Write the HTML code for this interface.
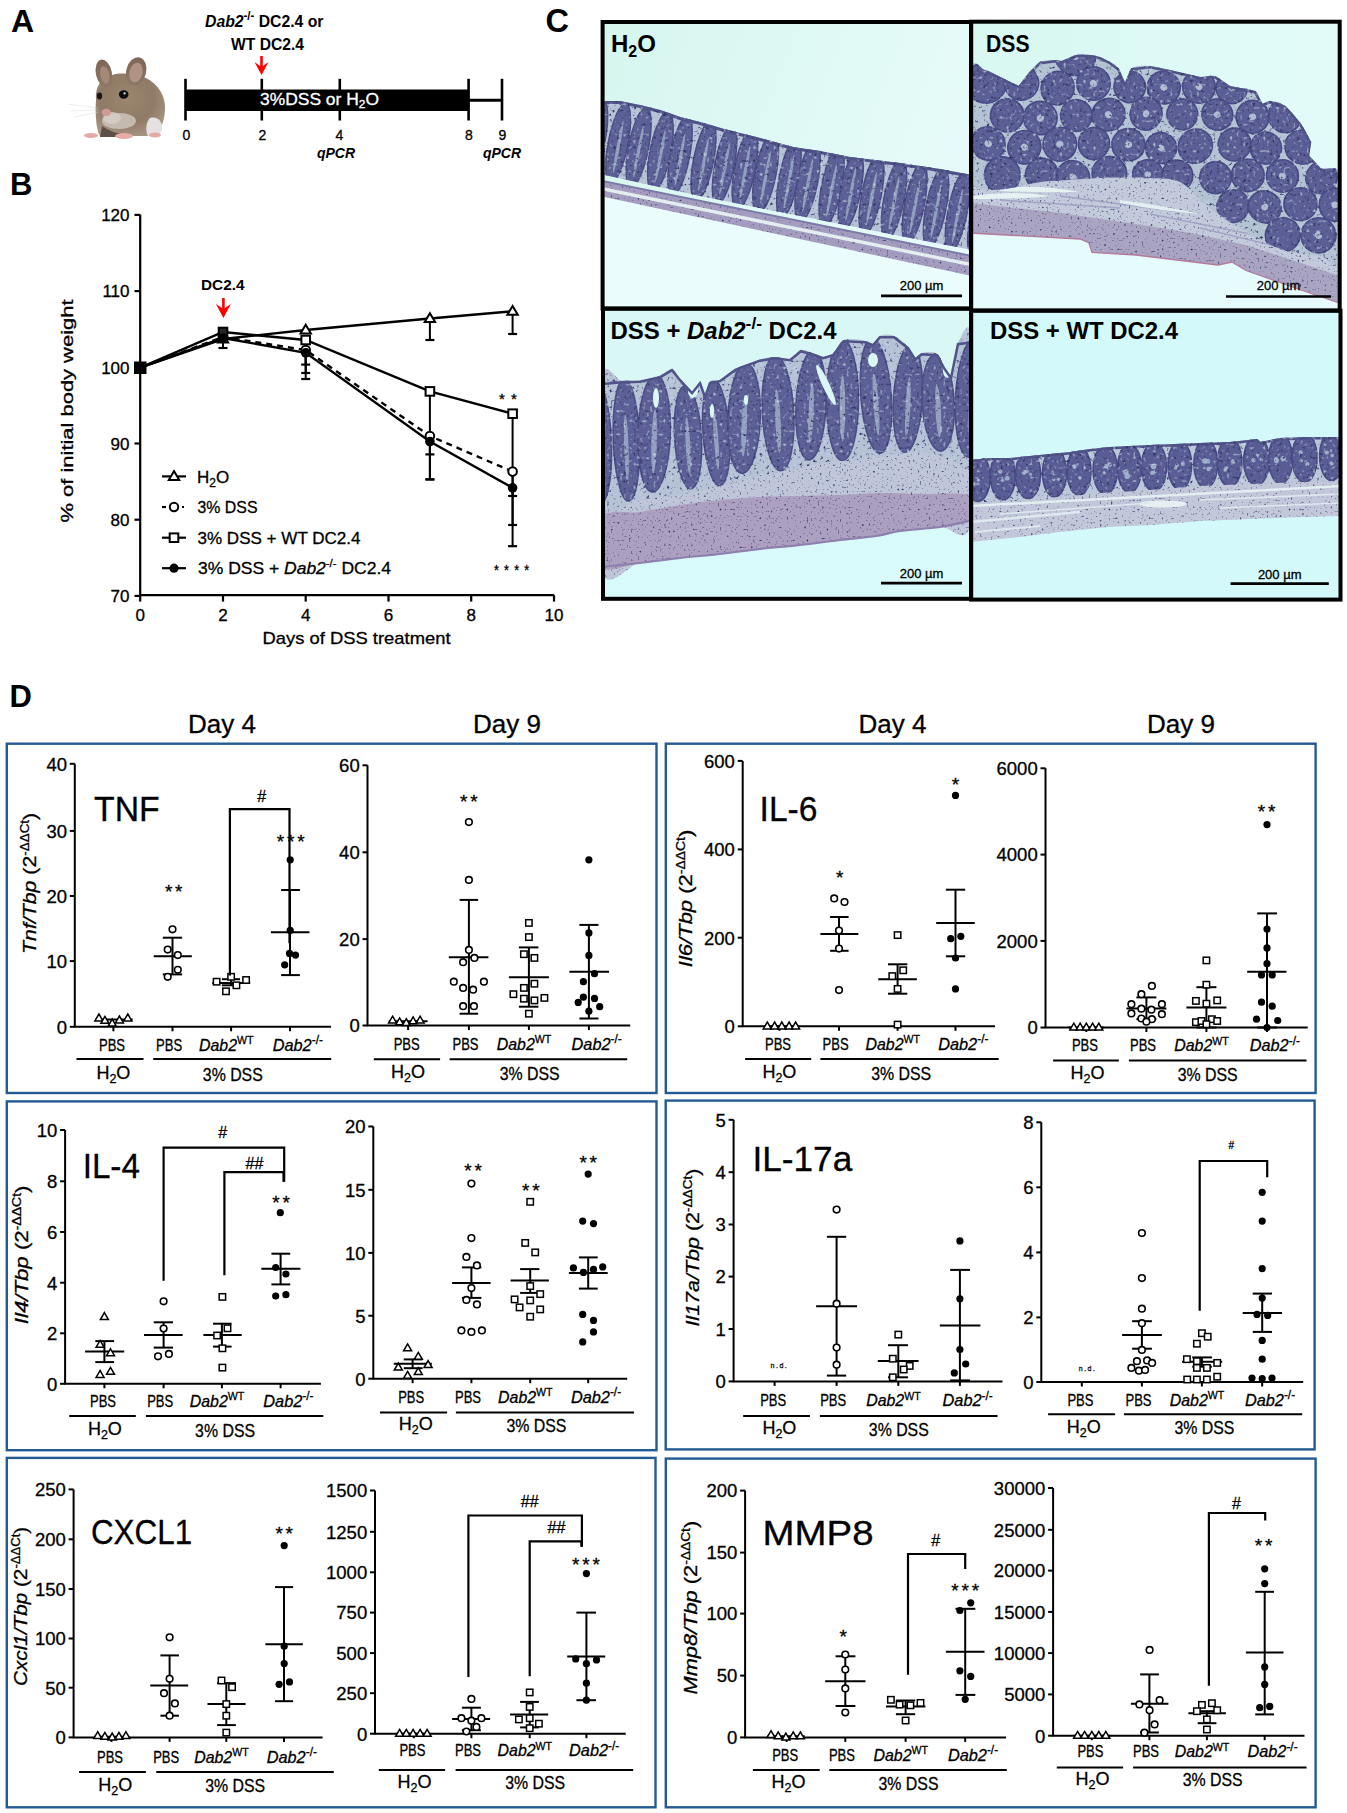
<!DOCTYPE html>
<html><head><meta charset="utf-8"><style>
html,body{margin:0;padding:0;background:#fff;}
body{width:1347px;height:1813px;overflow:hidden;}
svg{display:block;font-family:"Liberation Sans",sans-serif;}
text{stroke:#000;stroke-width:0.3px;}
text[font-weight="bold"]{stroke-width:0;}
text[fill="#fff"]{stroke:#fff;}
</style></head><body>
<svg width="1347" height="1813" viewBox="0 0 1347 1813">
<text x="11" y="32.3" font-size="32" font-weight="bold">A</text>
<g>
 <defs>
  <radialGradient id="mfur" cx="0.45" cy="0.4" r="0.65">
   <stop offset="0" stop-color="#9c8670"/><stop offset="0.6" stop-color="#8f7a66"/><stop offset="1" stop-color="#a89684"/>
  </radialGradient>
  <linearGradient id="mear" x1="0" y1="0" x2="0" y2="1"><stop offset="0" stop-color="#7d6656"/><stop offset="1" stop-color="#8e7766"/></linearGradient>
  <filter id="mfz" x="-0.1" y="-0.1" width="1.2" height="1.2"><feGaussianBlur stdDeviation="0.6"/></filter>
 </defs>
 <g filter="url(#mfz)">
 <path d="M96 100 C95 88 100 78 112 75 C122 72 135 74 146 78 C158 84 166 96 165 110 C164 124 160 132 152 136 L100 136 C96 130 95 112 96 100 Z" fill="url(#mfur)"/>
 <path d="M150 118 C158 116 163 122 162 130 C160 135 154 137 148 136 C145 130 146 122 150 118 Z" fill="#e4e2e0"/>
 <ellipse cx="119" cy="121" rx="17" ry="8" fill="#cdc4bb" opacity="0.85"/>
 <ellipse cx="112" cy="118" rx="9" ry="6" fill="#d8d0c9" opacity="0.8"/>
 <path d="M102 126 C108 130 116 134 124 134 L122 137 L100 137 Z" fill="#5e5048"/>
 <ellipse cx="103.9" cy="73.4" rx="8" ry="14" transform="rotate(-12 103.9 73.4)" fill="url(#mear)"/>
 <ellipse cx="104.8" cy="75" rx="4.5" ry="9" transform="rotate(-12 104.8 75)" fill="#a58878"/>
 <ellipse cx="136.2" cy="71.3" rx="10" ry="14.3" transform="rotate(14 136.2 71.3)" fill="url(#mear)"/>
 <ellipse cx="136" cy="72.5" rx="6.5" ry="10" transform="rotate(14 136 72.5)" fill="#b09385"/>
 <ellipse cx="123.7" cy="94.5" rx="4.8" ry="4.2" fill="#0d0d10"/>
 <circle cx="124.6" cy="93.4" r="1.1" fill="#dfe6ee"/>
 <ellipse cx="99.5" cy="96" rx="2.6" ry="3.4" fill="#15151a"/>
 <ellipse cx="106.3" cy="112.4" rx="4.5" ry="3.6" fill="#cf9a98"/>
 <ellipse cx="91" cy="135.5" rx="7" ry="2.6" fill="#e5aaa6"/>
 <ellipse cx="124" cy="136" rx="9" ry="3" fill="#e6aca8"/>
 <ellipse cx="155" cy="135" rx="6" ry="2.4" fill="#e3aaa6"/>
 </g>
 <g stroke="#d8d4d0" stroke-width="0.5" fill="none" opacity="0.8">
  <path d="M98 108 L68 104 M98 110 L70 111 M99 112 L74 117"/>
 </g>
</g>
<rect x="185" y="89.5" width="283.5" height="21.5" fill="#000"/>
<line x1="468" y1="100.3" x2="502" y2="100.3" stroke="#000" stroke-width="3"/>
<line x1="185.5" y1="78.8" x2="185.5" y2="120.5" stroke="#000" stroke-width="2.6"/>
<line x1="261.8" y1="78.8" x2="261.8" y2="120.5" stroke="#000" stroke-width="2.6"/>
<line x1="339.8" y1="78.8" x2="339.8" y2="120.5" stroke="#000" stroke-width="2.6"/>
<line x1="468.6" y1="78.8" x2="468.6" y2="120.5" stroke="#000" stroke-width="2.6"/>
<line x1="502" y1="78.8" x2="502" y2="120.5" stroke="#000" stroke-width="2.6"/>
<text x="186.5" y="139.6" font-size="14" text-anchor="middle">0</text>
<text x="262.5" y="139.6" font-size="14" text-anchor="middle">2</text>
<text x="339.5" y="139.6" font-size="14" text-anchor="middle">4</text>
<text x="469" y="139.6" font-size="14" text-anchor="middle">8</text>
<text x="502.5" y="139.6" font-size="14" text-anchor="middle">9</text>
<text x="336" y="157.7" font-size="14" font-weight="bold" font-style="italic" text-anchor="middle">qPCR</text>
<text x="502" y="157.7" font-size="14" font-weight="bold" font-style="italic" text-anchor="middle">qPCR</text>
<text x="260" y="104.8" font-size="16" fill="#fff" textLength="119" lengthAdjust="spacingAndGlyphs">3%DSS or H<tspan font-size="11" dy="3">2</tspan><tspan dy="-3">O</tspan></text>
<text x="205" y="26.7" font-size="16.5" font-weight="bold" textLength="118.5" lengthAdjust="spacingAndGlyphs"><tspan font-style="italic">Dab2</tspan><tspan font-size="12" dy="-6.5">-/-</tspan><tspan dy="6.5"> DC2.4 or</tspan></text>
<text x="231" y="49.6" font-size="16.5" font-weight="bold" textLength="73" lengthAdjust="spacingAndGlyphs">WT DC2.4</text>
<line x1="261.5" y1="56" x2="261.5" y2="71" stroke="#f00" stroke-width="2.6"/><path d="M254.5 62 L261.5 75 L268.5 62 L261.5 67 Z" fill="#f00"/>
<text x="10" y="195" font-size="31" font-weight="bold">B</text>
<path d="M140.2 214.6 V595.2 H554.2" fill="none" stroke="#000" stroke-width="2.2"/>
<line x1="134.5" y1="214.9" x2="140.2" y2="214.9" stroke="#000" stroke-width="2.2"/>
<text x="129.5" y="221.1" font-size="17" text-anchor="end">120</text>
<line x1="134.5" y1="291.1" x2="140.2" y2="291.1" stroke="#000" stroke-width="2.2"/>
<text x="129.5" y="297.3" font-size="17" text-anchor="end">110</text>
<line x1="134.5" y1="367.3" x2="140.2" y2="367.3" stroke="#000" stroke-width="2.2"/>
<text x="129.5" y="373.5" font-size="17" text-anchor="end">100</text>
<line x1="134.5" y1="443.5" x2="140.2" y2="443.5" stroke="#000" stroke-width="2.2"/>
<text x="129.5" y="449.7" font-size="17" text-anchor="end">90</text>
<line x1="134.5" y1="519.7" x2="140.2" y2="519.7" stroke="#000" stroke-width="2.2"/>
<text x="129.5" y="525.9" font-size="17" text-anchor="end">80</text>
<line x1="134.5" y1="595.9" x2="140.2" y2="595.9" stroke="#000" stroke-width="2.2"/>
<text x="129.5" y="602.1" font-size="17" text-anchor="end">70</text>
<line x1="140.2" y1="595.2" x2="140.2" y2="601.6" stroke="#000" stroke-width="2.2"/>
<text x="140.2" y="621" font-size="17" text-anchor="middle">0</text>
<line x1="223" y1="595.2" x2="223" y2="601.6" stroke="#000" stroke-width="2.2"/>
<text x="223" y="621" font-size="17" text-anchor="middle">2</text>
<line x1="305.7" y1="595.2" x2="305.7" y2="601.6" stroke="#000" stroke-width="2.2"/>
<text x="305.7" y="621" font-size="17" text-anchor="middle">4</text>
<line x1="388.5" y1="595.2" x2="388.5" y2="601.6" stroke="#000" stroke-width="2.2"/>
<text x="388.5" y="621" font-size="17" text-anchor="middle">6</text>
<line x1="471.2" y1="595.2" x2="471.2" y2="601.6" stroke="#000" stroke-width="2.2"/>
<text x="471.2" y="621" font-size="17" text-anchor="middle">8</text>
<line x1="554" y1="595.2" x2="554" y2="601.6" stroke="#000" stroke-width="2.2"/>
<text x="554" y="621" font-size="17" text-anchor="middle">10</text>
<text x="262.5" y="643.5" font-size="17" textLength="188" lengthAdjust="spacingAndGlyphs">Days of DSS treatment</text>
<text transform="translate(72.5 411) rotate(-90)" font-size="17" text-anchor="middle" textLength="223" lengthAdjust="spacingAndGlyphs">% of initial body weight</text>
<text x="201" y="289.8" font-size="15" font-weight="bold" textLength="43.5" lengthAdjust="spacingAndGlyphs">DC2.4</text>
<line x1="223.4" y1="298" x2="223.4" y2="314" stroke="#f00" stroke-width="2.6"/><path d="M215.9 304 L223.4 318 L230.9 304 L223.4 309 Z" fill="#f00"/>
<polyline points="140.2,367.6 223,339 305.7,330 429.9,318.5 512.6,311.2" fill="none" stroke="#000" stroke-width="2.4"/>
<polyline points="140.2,367.6 223,337 305.7,350 429.9,436 512.6,471.6" fill="none" stroke="#000" stroke-width="2.4" stroke-dasharray="6,5"/>
<polyline points="140.2,367.6 223,332 305.7,340 429.9,391.4 512.6,413.7" fill="none" stroke="#000" stroke-width="2.4"/>
<polyline points="140.2,367.6 223,338 305.7,352.8 429.9,441.5 512.6,487.8" fill="none" stroke="#000" stroke-width="2.4"/>
<line x1="223" y1="338" x2="223" y2="348" stroke="#000" stroke-width="2"/>
<line x1="218.5" y1="348" x2="227.5" y2="348" stroke="#000" stroke-width="2.2"/>
<line x1="305.7" y1="345" x2="305.7" y2="364.6" stroke="#000" stroke-width="2"/>
<line x1="301.2" y1="364.6" x2="310.2" y2="364.6" stroke="#000" stroke-width="2.2"/>
<line x1="305.7" y1="350" x2="305.7" y2="379" stroke="#000" stroke-width="2"/>
<line x1="301.2" y1="379" x2="310.2" y2="379" stroke="#000" stroke-width="2.2"/>
<line x1="305.7" y1="352" x2="305.7" y2="373" stroke="#000" stroke-width="2"/>
<line x1="301.2" y1="373" x2="310.2" y2="373" stroke="#000" stroke-width="2.2"/>
<line x1="429.9" y1="318.5" x2="429.9" y2="340" stroke="#000" stroke-width="2"/>
<line x1="425.4" y1="340" x2="434.4" y2="340" stroke="#000" stroke-width="2.2"/>
<line x1="429.9" y1="391.4" x2="429.9" y2="479.4" stroke="#000" stroke-width="2"/>
<line x1="425.4" y1="479.4" x2="434.4" y2="479.4" stroke="#000" stroke-width="2.2"/>
<line x1="429.9" y1="441" x2="429.9" y2="454.4" stroke="#000" stroke-width="2"/>
<line x1="425.4" y1="454.4" x2="434.4" y2="454.4" stroke="#000" stroke-width="2.2"/>
<line x1="429.9" y1="441" x2="429.9" y2="479.4" stroke="#000" stroke-width="2"/>
<line x1="425.4" y1="479.4" x2="434.4" y2="479.4" stroke="#000" stroke-width="2.2"/>
<line x1="512.6" y1="311.2" x2="512.6" y2="334" stroke="#000" stroke-width="2"/>
<line x1="508.1" y1="334" x2="517.1" y2="334" stroke="#000" stroke-width="2.2"/>
<line x1="512.6" y1="413.7" x2="512.6" y2="546.2" stroke="#000" stroke-width="2"/>
<line x1="508.1" y1="546.2" x2="517.1" y2="546.2" stroke="#000" stroke-width="2.2"/>
<line x1="512.6" y1="471.6" x2="512.6" y2="525" stroke="#000" stroke-width="2"/>
<line x1="508.1" y1="525" x2="517.1" y2="525" stroke="#000" stroke-width="2.2"/>
<line x1="512.6" y1="487.8" x2="512.6" y2="496" stroke="#000" stroke-width="2"/>
<line x1="508.1" y1="496" x2="517.1" y2="496" stroke="#000" stroke-width="2.2"/>
<path d="M223 333.7 L228.2 342.5 L217.8 342.5 Z" fill="#fff" stroke="#000" stroke-width="2" stroke-linejoin="miter"/>
<path d="M305.7 324.7 L310.9 333.5 L300.5 333.5 Z" fill="#fff" stroke="#000" stroke-width="2" stroke-linejoin="miter"/>
<path d="M429.9 313.2 L435.1 322 L424.7 322 Z" fill="#fff" stroke="#000" stroke-width="2" stroke-linejoin="miter"/>
<path d="M512.6 305.9 L517.8 314.7 L507.4 314.7 Z" fill="#fff" stroke="#000" stroke-width="2" stroke-linejoin="miter"/>
<circle cx="223" cy="337" r="4.3" fill="#fff" stroke="#000" stroke-width="2"/>
<circle cx="305.7" cy="350" r="4.3" fill="#fff" stroke="#000" stroke-width="2"/>
<circle cx="429.9" cy="436" r="4.3" fill="#fff" stroke="#000" stroke-width="2"/>
<circle cx="512.6" cy="471.6" r="4.3" fill="#fff" stroke="#000" stroke-width="2"/>
<rect x="218.7" y="327.7" width="8.6" height="8.6" fill="#fff" stroke="#000" stroke-width="2"/>
<rect x="301.4" y="335.7" width="8.6" height="8.6" fill="#fff" stroke="#000" stroke-width="2"/>
<rect x="425.6" y="387.1" width="8.6" height="8.6" fill="#fff" stroke="#000" stroke-width="2"/>
<rect x="508.3" y="409.4" width="8.6" height="8.6" fill="#fff" stroke="#000" stroke-width="2"/>
<circle cx="223" cy="338" r="4.8" fill="#000"/>
<circle cx="305.7" cy="352.8" r="4.8" fill="#000"/>
<circle cx="429.9" cy="441.5" r="4.8" fill="#000"/>
<circle cx="512.6" cy="487.8" r="4.8" fill="#000"/>
<rect x="134" y="361.5" width="12.5" height="12.5" fill="#000"/>
<rect x="218.5" y="327" width="9.5" height="14" fill="#000" opacity="0.85"/>
<text x="508.5" y="404" font-size="15" text-anchor="middle" letter-spacing="1">* *</text>
<text x="512" y="575" font-size="15" text-anchor="middle" letter-spacing="1" textLength="36" lengthAdjust="spacingAndGlyphs">* * * *</text>
<line x1="162" y1="476.4" x2="186" y2="476.4" stroke="#000" stroke-width="2.2"/><path d="M174 471.1 L179.2 479.9 L168.8 479.9 Z" fill="#fff" stroke="#000" stroke-width="2" stroke-linejoin="miter"/>
<line x1="162" y1="507" x2="166" y2="507" stroke="#000" stroke-width="2.2"/><circle cx="174" cy="507" r="4.2" fill="#fff" stroke="#000" stroke-width="2"/><line x1="182" y1="507" x2="184" y2="507" stroke="#000" stroke-width="2"/>
<line x1="162" y1="537.7" x2="186" y2="537.7" stroke="#000" stroke-width="2.2"/><rect x="169.7" y="533.4" width="8.6" height="8.6" fill="#fff" stroke="#000" stroke-width="2"/>
<line x1="162" y1="568.2" x2="186" y2="568.2" stroke="#000" stroke-width="2.2"/><circle cx="174" cy="568.2" r="4.6" fill="#000"/>
<text x="197" y="482.5" font-size="17">H<tspan font-size="12" dy="4">2</tspan><tspan dy="-4">O</tspan></text>
<text x="197.5" y="513" font-size="17" textLength="60" lengthAdjust="spacingAndGlyphs">3% DSS</text>
<text x="197.5" y="543.7" font-size="17" textLength="163" lengthAdjust="spacingAndGlyphs">3% DSS + WT DC2.4</text>
<text x="198" y="574.2" font-size="17" textLength="193" lengthAdjust="spacingAndGlyphs">3% DSS + <tspan font-style="italic">Dab2</tspan><tspan font-size="11" dy="-7">-/-</tspan><tspan dy="7"> DC2.4</tspan></text>
<defs><clipPath id="cTL"><rect x="602" y="22" width="370" height="287"/></clipPath><clipPath id="cTR"><rect x="971" y="22" width="370" height="289"/></clipPath><clipPath id="cBL"><rect x="602" y="308" width="370" height="291"/></clipPath><clipPath id="cBR"><rect x="971" y="310" width="370" height="290"/></clipPath><filter id="tx" x="0" y="0" width="1" height="1" filterUnits="objectBoundingBox" color-interpolation-filters="sRGB"><feTurbulence type="fractalNoise" baseFrequency="0.3" numOctaves="2" seed="7" result="n"/><feColorMatrix in="n" type="matrix" values="0 0 0 0 0.2  0 0 0 0 0.2  0 0 0 0 0.38  0 0 0 4.5 -2.75" result="d"/><feComposite in="d" in2="SourceAlpha" operator="in" result="di"/><feTurbulence type="fractalNoise" baseFrequency="0.3" numOctaves="1" seed="11" result="n2"/><feColorMatrix in="n2" type="matrix" values="0 0 0 0 0.8  0 0 0 0 0.85  0 0 0 0 0.9  0 0 0 3.5 -2.1" result="l"/><feComposite in="l" in2="SourceAlpha" operator="in" result="li"/><feMerge><feMergeNode in="SourceGraphic"/><feMergeNode in="di"/><feMergeNode in="li"/></feMerge></filter><filter id="tx2" x="0" y="0" width="1" height="1" filterUnits="objectBoundingBox" color-interpolation-filters="sRGB"><feTurbulence type="fractalNoise" baseFrequency="0.45" numOctaves="1" seed="3" result="n"/><feColorMatrix in="n" type="matrix" values="0 0 0 0 0.2  0 0 0 0 0.22  0 0 0 0 0.4  0 0 0 5 -3.1" result="d"/><feComposite in="d" in2="SourceAlpha" operator="in" result="di"/><feMerge><feMergeNode in="SourceGraphic"/><feMergeNode in="di"/></feMerge></filter><filter id="soft" x="0" y="0" width="1" height="1" filterUnits="objectBoundingBox"><feGaussianBlur stdDeviation="0.6"/></filter><linearGradient id="bgTL" x1="0" y1="0" x2="1" y2="0.3"><stop offset="0" stop-color="#d6f6ee"/><stop offset="1" stop-color="#e6fbf9"/></linearGradient><linearGradient id="bgTR" x1="0" y1="0" x2="1" y2="0"><stop offset="0" stop-color="#d8f8f1"/><stop offset="1" stop-color="#e2fbfa"/></linearGradient></defs>
<g clip-path="url(#cTL)"><g filter="url(#soft)">
<rect x="600" y="20" width="372" height="290" fill="url(#bgTL)"/>
<path d="M600 182 L972 262 L972 310 L600 310 Z" fill="#eafcfb"/>
<g filter="url(#tx2)">
<polygon points="600,180 972,256 972,276 600,196" fill="#a49dbf"/>
</g>
<polygon points="600,186.5 972,263 972,266.5 600,190" fill="#e4eef0"/>
<polygon points="600,179.5 972,255 972,257 600,181.5" fill="#7c7aa6"/>
<clipPath id="czTL"><polygon points="600,101 620,101 640,105 660,110 680,117 700,122 724,129 760,138 793,147 820,151 850,157 900,163 940,169 972,175 972,250 900,236 800,216 700,196 600,174"/></clipPath>
<g filter="url(#tx)">
<polygon points="600,101 620,101 640,105 660,110 680,117 700,122 724,129 760,138 793,147 820,151 850,157 900,163 940,169 972,175 972,250 900,236 800,216 700,196 600,174" fill="#b6c3d7"/>
<g clip-path="url(#czTL)">
<ellipse cx="594.9" cy="138.5" rx="10.4" ry="40.5" transform="rotate(11 594.9 138.5)" fill="#5c6096" stroke="#4b4e86" stroke-width="1.5"/>
<ellipse cx="594.9" cy="142.5" rx="1.6" ry="26.5" transform="rotate(11 594.9 142.5)" fill="#9fb0c8" opacity="0.8"/>
<ellipse cx="618.1" cy="143.2" rx="9.9" ry="40.5" transform="rotate(11 618.1 143.2)" fill="#5c6096" stroke="#4b4e86" stroke-width="1.5"/>
<ellipse cx="618.1" cy="147.2" rx="1.6" ry="26.5" transform="rotate(11 618.1 147.2)" fill="#9fb0c8" opacity="0.8"/>
<ellipse cx="638.6" cy="147.3" rx="10" ry="40.6" transform="rotate(11 638.6 147.3)" fill="#5c6096" stroke="#4b4e86" stroke-width="1.5"/>
<ellipse cx="638.6" cy="151.3" rx="1.6" ry="26.6" transform="rotate(11 638.6 151.3)" fill="#9fb0c8" opacity="0.8"/>
<ellipse cx="660.4" cy="151.7" rx="10.4" ry="40.7" transform="rotate(11 660.4 151.7)" fill="#5c6096" stroke="#4b4e86" stroke-width="1.5"/>
<ellipse cx="660.4" cy="155.7" rx="1.6" ry="26.7" transform="rotate(11 660.4 155.7)" fill="#9fb0c8" opacity="0.8"/>
<ellipse cx="680" cy="155.7" rx="9.6" ry="40.7" transform="rotate(11 680 155.7)" fill="#5c6096" stroke="#4b4e86" stroke-width="1.5"/>
<ellipse cx="680" cy="159.7" rx="1.6" ry="26.7" transform="rotate(11 680 159.7)" fill="#9fb0c8" opacity="0.8"/>
<ellipse cx="703.5" cy="160.5" rx="10" ry="40.8" transform="rotate(11 703.5 160.5)" fill="#5c6096" stroke="#4b4e86" stroke-width="1.5"/>
<ellipse cx="703.5" cy="164.5" rx="1.6" ry="26.8" transform="rotate(11 703.5 164.5)" fill="#9fb0c8" opacity="0.8"/>
<ellipse cx="724.6" cy="164.7" rx="9.6" ry="40.8" transform="rotate(11 724.6 164.7)" fill="#5c6096" stroke="#4b4e86" stroke-width="1.5"/>
<ellipse cx="724.6" cy="168.7" rx="1.6" ry="26.8" transform="rotate(11 724.6 168.7)" fill="#9fb0c8" opacity="0.8"/>
<ellipse cx="744.9" cy="168.8" rx="10.3" ry="40.9" transform="rotate(11 744.9 168.8)" fill="#5c6096" stroke="#4b4e86" stroke-width="1.5"/>
<ellipse cx="744.9" cy="172.8" rx="1.6" ry="26.9" transform="rotate(11 744.9 172.8)" fill="#9fb0c8" opacity="0.8"/>
<ellipse cx="765.6" cy="173" rx="10.5" ry="40.9" transform="rotate(11 765.6 173)" fill="#5c6096" stroke="#4b4e86" stroke-width="1.5"/>
<ellipse cx="765.6" cy="177" rx="1.6" ry="26.9" transform="rotate(11 765.6 177)" fill="#9fb0c8" opacity="0.8"/>
<ellipse cx="788.9" cy="177.8" rx="9.6" ry="41" transform="rotate(11 788.9 177.8)" fill="#5c6096" stroke="#4b4e86" stroke-width="1.5"/>
<ellipse cx="788.9" cy="181.8" rx="1.6" ry="27" transform="rotate(11 788.9 181.8)" fill="#9fb0c8" opacity="0.8"/>
<ellipse cx="807.6" cy="181.5" rx="10.1" ry="41" transform="rotate(11 807.6 181.5)" fill="#5c6096" stroke="#4b4e86" stroke-width="1.5"/>
<ellipse cx="807.6" cy="185.5" rx="1.6" ry="27" transform="rotate(11 807.6 185.5)" fill="#9fb0c8" opacity="0.8"/>
<ellipse cx="831.6" cy="186.4" rx="10" ry="41.1" transform="rotate(11 831.6 186.4)" fill="#5c6096" stroke="#4b4e86" stroke-width="1.5"/>
<ellipse cx="831.6" cy="190.4" rx="1.6" ry="27.1" transform="rotate(11 831.6 190.4)" fill="#9fb0c8" opacity="0.8"/>
<ellipse cx="850.7" cy="190.3" rx="10" ry="41.1" transform="rotate(11 850.7 190.3)" fill="#5c6096" stroke="#4b4e86" stroke-width="1.5"/>
<ellipse cx="850.7" cy="194.3" rx="1.6" ry="27.1" transform="rotate(11 850.7 194.3)" fill="#9fb0c8" opacity="0.8"/>
<ellipse cx="871.5" cy="194.5" rx="9.8" ry="41.2" transform="rotate(11 871.5 194.5)" fill="#5c6096" stroke="#4b4e86" stroke-width="1.5"/>
<ellipse cx="871.5" cy="198.5" rx="1.6" ry="27.2" transform="rotate(11 871.5 198.5)" fill="#9fb0c8" opacity="0.8"/>
<ellipse cx="894" cy="199" rx="10.1" ry="41.2" transform="rotate(11 894 199)" fill="#5c6096" stroke="#4b4e86" stroke-width="1.5"/>
<ellipse cx="894" cy="203" rx="1.6" ry="27.2" transform="rotate(11 894 203)" fill="#9fb0c8" opacity="0.8"/>
<ellipse cx="914.7" cy="203.2" rx="9.8" ry="41.3" transform="rotate(11 914.7 203.2)" fill="#5c6096" stroke="#4b4e86" stroke-width="1.5"/>
<ellipse cx="914.7" cy="207.2" rx="1.6" ry="27.3" transform="rotate(11 914.7 207.2)" fill="#9fb0c8" opacity="0.8"/>
<ellipse cx="936" cy="207.5" rx="10.1" ry="41.3" transform="rotate(11 936 207.5)" fill="#5c6096" stroke="#4b4e86" stroke-width="1.5"/>
<ellipse cx="936" cy="211.5" rx="1.6" ry="27.3" transform="rotate(11 936 211.5)" fill="#9fb0c8" opacity="0.8"/>
<ellipse cx="957.5" cy="211.9" rx="9.6" ry="41.4" transform="rotate(11 957.5 211.9)" fill="#5c6096" stroke="#4b4e86" stroke-width="1.5"/>
<ellipse cx="957.5" cy="215.9" rx="1.6" ry="27.4" transform="rotate(11 957.5 215.9)" fill="#9fb0c8" opacity="0.8"/>
<ellipse cx="980.4" cy="216.5" rx="10.2" ry="41.5" transform="rotate(11 980.4 216.5)" fill="#5c6096" stroke="#4b4e86" stroke-width="1.5"/>
<ellipse cx="980.4" cy="220.5" rx="1.6" ry="27.5" transform="rotate(11 980.4 220.5)" fill="#9fb0c8" opacity="0.8"/>
</g>
<polyline points="600,102.5 620,102.5 640,106.5 660,111.5 680,118.5 700,123.5 724,130.5 760,139.5 793,148.5 820,152.5 850,158.5 900,164.5 940,170.5 972,176.5" fill="none" stroke="#4f5288" stroke-width="3"/>
</g>
</g></g>
<g clip-path="url(#cTR)"><g filter="url(#soft)">
<rect x="970" y="20" width="372" height="292" fill="url(#bgTR)"/>
<path d="M970 230 L1090 240 L1240 262 L1342 300 L1342 312 L970 312 Z" fill="#e6fbfb"/>
<g filter="url(#tx2)">
<polygon points="970,72 985,70 998,76 1010,82 1019,86 1030,72 1040,62 1055,60 1062,61 1076,55 1090,55 1100,57 1110,62 1118,68 1125,84 1132,68 1150,66 1170,70 1200,77 1215,76 1230,86 1255,91 1262,104 1270,101 1285,106 1300,123 1310,141 1308,155 1320,168 1342,177 1342,304 1301,290 1246,270.5 1232,262 1218,265 1136,255 1092,252.5 1089,243 1080,239 970,233" fill="#c3cadb"/>
<polygon points="970,203 1053,212 1136,224 1191,233 1246,245 1301,263 1342,277 1342,304 1301,290 1246,270.5 1232,262 1218,265 1136,255 1092,252.5 1089,243 1080,239 970,233" fill="#a9a4c2"/>
</g>
<polyline points="1342,304 1301,290 1246,270.5 1232,262 1218,265 1136,255 1092,252.5 1089,243 1080,239 970,233" fill="none" stroke="#b47a9c" stroke-width="1.3"/>
<path d="M972 186 L1060 192" stroke="#9a9cc0" stroke-width="1.6" opacity="0.8"/>
<path d="M1000 200 L1120 208" stroke="#9a9cc0" stroke-width="1.6" opacity="0.8"/>
<path d="M1060 196 L1180 212" stroke="#9a9cc0" stroke-width="1.6" opacity="0.8"/>
<path d="M1150 214 L1260 236" stroke="#9a9cc0" stroke-width="1.6" opacity="0.8"/>
<path d="M1200 228 L1300 252" stroke="#9a9cc0" stroke-width="1.6" opacity="0.8"/>
<path d="M972 196 Q1010 190 1050 196 Q1030 199 972 199 Z" fill="#e6f2f2"/>
<path d="M1000 188 Q1040 184 1080 192 Q1040 193 1000 191 Z" fill="#e6f2f2"/>
<path d="M1120 200 Q1160 205 1200 214 Q1160 211 1120 203 Z" fill="#e2eef0"/>
<g filter="url(#tx)">
<path d="M970 72 C972.5 53.3 980.3 69.3 985 70 C989.7 70.7 993.8 74 998 76 C1002.2 78 1006.5 80.3 1010 82 C1013.5 83.7 1015.7 87.7 1019 86 C1022.3 84.3 1026.5 76 1030 72 C1033.5 68 1035.8 64 1040 62 C1044.2 60 1051.3 60.2 1055 60 C1058.7 59.8 1058.5 61.8 1062 61 C1065.5 60.2 1071.3 56 1076 55 C1080.7 54 1086 54.7 1090 55 C1094 55.3 1096.7 55.8 1100 57 C1103.3 58.2 1107 60.2 1110 62 C1113 63.8 1115.5 64.3 1118 68 C1120.5 71.7 1122.7 84 1125 84 C1127.3 84 1127.8 71 1132 68 C1136.2 65 1143.7 65.7 1150 66 C1156.3 66.3 1161.7 68.2 1170 70 C1178.3 71.8 1192.5 76 1200 77 C1207.5 78 1210 74.5 1215 76 C1220 77.5 1223.3 83.5 1230 86 C1236.7 88.5 1249.7 88 1255 91 C1260.3 94 1259.5 102.3 1262 104 C1264.5 105.7 1266.2 100.7 1270 101 C1273.8 101.3 1280 102.3 1285 106 C1290 109.7 1295.8 117.2 1300 123 C1304.2 128.8 1308.7 135.7 1310 141 C1311.3 146.3 1306.3 150.5 1308 155 C1309.7 159.5 1314.3 164.3 1320 168 C1325.7 171.7 1338.3 161.3 1342 177 C1345.7 192.7 1345.7 248.8 1342 262 C1338.3 275.2 1328.7 257.7 1320 256 C1311.3 254.3 1300 254.7 1290 252 C1280 249.3 1270 245 1260 240 C1250 235 1240 228.7 1230 222 C1220 215.3 1208.3 206.7 1200 200 C1191.7 193.3 1188.3 185.7 1180 182 C1171.7 178.3 1163.3 178.7 1150 178 C1136.7 177.3 1116.7 177.5 1100 178 C1083.3 178.5 1071.7 180.3 1050 181 C1028.3 181.7 983.3 200.2 970 182 C956.7 163.8 967.5 90.7 970 72Z" fill="#b3c3d4"/>
<clipPath id="czTR"><path d="M970 72 C972.5 53.3 980.3 69.3 985 70 C989.7 70.7 993.8 74 998 76 C1002.2 78 1006.5 80.3 1010 82 C1013.5 83.7 1015.7 87.7 1019 86 C1022.3 84.3 1026.5 76 1030 72 C1033.5 68 1035.8 64 1040 62 C1044.2 60 1051.3 60.2 1055 60 C1058.7 59.8 1058.5 61.8 1062 61 C1065.5 60.2 1071.3 56 1076 55 C1080.7 54 1086 54.7 1090 55 C1094 55.3 1096.7 55.8 1100 57 C1103.3 58.2 1107 60.2 1110 62 C1113 63.8 1115.5 64.3 1118 68 C1120.5 71.7 1122.7 84 1125 84 C1127.3 84 1127.8 71 1132 68 C1136.2 65 1143.7 65.7 1150 66 C1156.3 66.3 1161.7 68.2 1170 70 C1178.3 71.8 1192.5 76 1200 77 C1207.5 78 1210 74.5 1215 76 C1220 77.5 1223.3 83.5 1230 86 C1236.7 88.5 1249.7 88 1255 91 C1260.3 94 1259.5 102.3 1262 104 C1264.5 105.7 1266.2 100.7 1270 101 C1273.8 101.3 1280 102.3 1285 106 C1290 109.7 1295.8 117.2 1300 123 C1304.2 128.8 1308.7 135.7 1310 141 C1311.3 146.3 1306.3 150.5 1308 155 C1309.7 159.5 1314.3 164.3 1320 168 C1325.7 171.7 1338.3 161.3 1342 177 C1345.7 192.7 1345.7 248.8 1342 262 C1338.3 275.2 1328.7 257.7 1320 256 C1311.3 254.3 1300 254.7 1290 252 C1280 249.3 1270 245 1260 240 C1250 235 1240 228.7 1230 222 C1220 215.3 1208.3 206.7 1200 200 C1191.7 193.3 1188.3 185.7 1180 182 C1171.7 178.3 1163.3 178.7 1150 178 C1136.7 177.3 1116.7 177.5 1100 178 C1083.3 178.5 1071.7 180.3 1050 181 C1028.3 181.7 983.3 200.2 970 182 C956.7 163.8 967.5 90.7 970 72Z"/></clipPath>
<g clip-path="url(#czTR)"><ellipse cx="1075.6" cy="55.6" rx="20.2" ry="20" transform="rotate(2.8 1075.6 55.6)" fill="#5b5e96" stroke="#4a4c86" stroke-width="1.6"/><ellipse cx="1075.6" cy="55.6" rx="4" ry="4.4" transform="rotate(2.8 1075.6 55.6)" fill="#b8c8d8" opacity="0.9"/><ellipse cx="986" cy="82.6" rx="20.5" ry="20.6" transform="rotate(37.5 986 82.6)" fill="#5b5e96" stroke="#4a4c86" stroke-width="1.6"/><ellipse cx="1021.5" cy="83.3" rx="16.8" ry="17.2" transform="rotate(67.1 1021.5 83.3)" fill="#5b5e96" stroke="#4a4c86" stroke-width="1.6"/><ellipse cx="1057.6" cy="88.1" rx="16.2" ry="17.2" transform="rotate(34.6 1057.6 88.1)" fill="#5b5e96" stroke="#4a4c86" stroke-width="1.6"/><ellipse cx="1093.5" cy="83.5" rx="16.7" ry="16.8" transform="rotate(135.6 1093.5 83.5)" fill="#5b5e96" stroke="#4a4c86" stroke-width="1.6"/><ellipse cx="1093.5" cy="83.5" rx="3.3" ry="3.7" transform="rotate(135.6 1093.5 83.5)" fill="#b8c8d8" opacity="0.9"/><ellipse cx="1129.7" cy="87" rx="15.7" ry="15.7" transform="rotate(14.5 1129.7 87)" fill="#5b5e96" stroke="#4a4c86" stroke-width="1.6"/><ellipse cx="1163.8" cy="87.6" rx="16.1" ry="16.6" transform="rotate(124.7 1163.8 87.6)" fill="#5b5e96" stroke="#4a4c86" stroke-width="1.6"/><ellipse cx="1163.8" cy="87.6" rx="3.2" ry="3.6" transform="rotate(124.7 1163.8 87.6)" fill="#b8c8d8" opacity="0.9"/><ellipse cx="1199" cy="86.9" rx="16.2" ry="16.4" transform="rotate(130.2 1199 86.9)" fill="#5b5e96" stroke="#4a4c86" stroke-width="1.6"/><ellipse cx="1199" cy="86.9" rx="3.2" ry="3.6" transform="rotate(130.2 1199 86.9)" fill="#b8c8d8" opacity="0.9"/><ellipse cx="1231.7" cy="88" rx="15.5" ry="15.7" transform="rotate(143.8 1231.7 88)" fill="#5b5e96" stroke="#4a4c86" stroke-width="1.6"/><ellipse cx="1231.7" cy="88" rx="3.1" ry="3.5" transform="rotate(143.8 1231.7 88)" fill="#b8c8d8" opacity="0.9"/><ellipse cx="1007.2" cy="115.4" rx="16.7" ry="16.6" transform="rotate(171.8 1007.2 115.4)" fill="#5b5e96" stroke="#4a4c86" stroke-width="1.6"/><ellipse cx="1040.4" cy="118" rx="16.8" ry="16.7" transform="rotate(53.4 1040.4 118)" fill="#5b5e96" stroke="#4a4c86" stroke-width="1.6"/><ellipse cx="1040.4" cy="118" rx="3.4" ry="3.7" transform="rotate(53.4 1040.4 118)" fill="#b8c8d8" opacity="0.9"/><ellipse cx="1076.3" cy="115.5" rx="16" ry="15.7" transform="rotate(77 1076.3 115.5)" fill="#5b5e96" stroke="#4a4c86" stroke-width="1.6"/><ellipse cx="1108.4" cy="114.6" rx="16.7" ry="16.2" transform="rotate(147.2 1108.4 114.6)" fill="#5b5e96" stroke="#4a4c86" stroke-width="1.6"/><ellipse cx="1108.4" cy="114.6" rx="3.3" ry="3.6" transform="rotate(147.2 1108.4 114.6)" fill="#b8c8d8" opacity="0.9"/><ellipse cx="1146.1" cy="113.7" rx="15.7" ry="16.6" transform="rotate(26.4 1146.1 113.7)" fill="#5b5e96" stroke="#4a4c86" stroke-width="1.6"/><ellipse cx="1146.1" cy="113.7" rx="3.1" ry="3.6" transform="rotate(26.4 1146.1 113.7)" fill="#b8c8d8" opacity="0.9"/><ellipse cx="1182.3" cy="114.3" rx="15.4" ry="15.5" transform="rotate(161.2 1182.3 114.3)" fill="#5b5e96" stroke="#4a4c86" stroke-width="1.6"/><ellipse cx="1217.3" cy="114.6" rx="15.9" ry="15.2" transform="rotate(53.3 1217.3 114.6)" fill="#5b5e96" stroke="#4a4c86" stroke-width="1.6"/><ellipse cx="1217.3" cy="114.6" rx="3.2" ry="3.3" transform="rotate(53.3 1217.3 114.6)" fill="#b8c8d8" opacity="0.9"/><ellipse cx="1252.6" cy="116.8" rx="16.5" ry="16.5" transform="rotate(79 1252.6 116.8)" fill="#5b5e96" stroke="#4a4c86" stroke-width="1.6"/><ellipse cx="1252.6" cy="116.8" rx="3.3" ry="3.6" transform="rotate(79 1252.6 116.8)" fill="#b8c8d8" opacity="0.9"/><ellipse cx="1285" cy="115.7" rx="16.4" ry="17.1" transform="rotate(171 1285 115.7)" fill="#5b5e96" stroke="#4a4c86" stroke-width="1.6"/><ellipse cx="988.2" cy="143.6" rx="16.4" ry="17.1" transform="rotate(128.8 988.2 143.6)" fill="#5b5e96" stroke="#4a4c86" stroke-width="1.6"/><ellipse cx="988.2" cy="143.6" rx="3.3" ry="3.8" transform="rotate(128.8 988.2 143.6)" fill="#b8c8d8" opacity="0.9"/><ellipse cx="1024.3" cy="147.2" rx="16.9" ry="16.3" transform="rotate(126.6 1024.3 147.2)" fill="#5b5e96" stroke="#4a4c86" stroke-width="1.6"/><ellipse cx="1024.3" cy="147.2" rx="3.4" ry="3.6" transform="rotate(126.6 1024.3 147.2)" fill="#b8c8d8" opacity="0.9"/><ellipse cx="1059.8" cy="144.2" rx="17" ry="16.7" transform="rotate(103.2 1059.8 144.2)" fill="#5b5e96" stroke="#4a4c86" stroke-width="1.6"/><ellipse cx="1059.8" cy="144.2" rx="3.4" ry="3.7" transform="rotate(103.2 1059.8 144.2)" fill="#b8c8d8" opacity="0.9"/><ellipse cx="1093.9" cy="143.5" rx="16.1" ry="15.5" transform="rotate(107.1 1093.9 143.5)" fill="#5b5e96" stroke="#4a4c86" stroke-width="1.6"/><ellipse cx="1128.4" cy="144.7" rx="16.1" ry="16.6" transform="rotate(86.8 1128.4 144.7)" fill="#5b5e96" stroke="#4a4c86" stroke-width="1.6"/><ellipse cx="1128.4" cy="144.7" rx="3.2" ry="3.7" transform="rotate(86.8 1128.4 144.7)" fill="#b8c8d8" opacity="0.9"/><ellipse cx="1161" cy="148" rx="15.4" ry="15.7" transform="rotate(127 1161 148)" fill="#5b5e96" stroke="#4a4c86" stroke-width="1.6"/><ellipse cx="1161" cy="148" rx="3.1" ry="3.5" transform="rotate(127 1161 148)" fill="#b8c8d8" opacity="0.9"/><ellipse cx="1195.3" cy="146.1" rx="17.6" ry="16.7" transform="rotate(134.2 1195.3 146.1)" fill="#5b5e96" stroke="#4a4c86" stroke-width="1.6"/><ellipse cx="1234.5" cy="144.5" rx="16.3" ry="16.5" transform="rotate(40.5 1234.5 144.5)" fill="#5b5e96" stroke="#4a4c86" stroke-width="1.6"/><ellipse cx="1265.9" cy="148.1" rx="15.6" ry="16" transform="rotate(175.9 1265.9 148.1)" fill="#5b5e96" stroke="#4a4c86" stroke-width="1.6"/><ellipse cx="1302.1" cy="147.1" rx="16.7" ry="17.4" transform="rotate(128.1 1302.1 147.1)" fill="#5b5e96" stroke="#4a4c86" stroke-width="1.6"/><ellipse cx="1002.3" cy="174.9" rx="17.8" ry="18.1" transform="rotate(3.1 1002.3 174.9)" fill="#5b5e96" stroke="#4a4c86" stroke-width="1.6"/><ellipse cx="1041.8" cy="174.3" rx="16.3" ry="16.1" transform="rotate(163 1041.8 174.3)" fill="#5b5e96" stroke="#4a4c86" stroke-width="1.6"/><ellipse cx="1073.2" cy="177.3" rx="16.1" ry="17.1" transform="rotate(138.1 1073.2 177.3)" fill="#5b5e96" stroke="#4a4c86" stroke-width="1.6"/><ellipse cx="1073.2" cy="177.3" rx="3.2" ry="3.8" transform="rotate(138.1 1073.2 177.3)" fill="#b8c8d8" opacity="0.9"/><ellipse cx="1109.4" cy="173.7" rx="17.4" ry="17.2" transform="rotate(34.5 1109.4 173.7)" fill="#5b5e96" stroke="#4a4c86" stroke-width="1.6"/><ellipse cx="1147.7" cy="174.3" rx="14.6" ry="15.2" transform="rotate(78.2 1147.7 174.3)" fill="#5b5e96" stroke="#4a4c86" stroke-width="1.6"/><ellipse cx="1147.7" cy="174.3" rx="2.9" ry="3.3" transform="rotate(78.2 1147.7 174.3)" fill="#b8c8d8" opacity="0.9"/><ellipse cx="1177.4" cy="175.4" rx="15.5" ry="15.3" transform="rotate(36.9 1177.4 175.4)" fill="#5b5e96" stroke="#4a4c86" stroke-width="1.6"/><ellipse cx="1215.6" cy="177.6" rx="16" ry="15.8" transform="rotate(87.4 1215.6 177.6)" fill="#5b5e96" stroke="#4a4c86" stroke-width="1.6"/><ellipse cx="1247.8" cy="175.3" rx="16.3" ry="16.4" transform="rotate(87.3 1247.8 175.3)" fill="#5b5e96" stroke="#4a4c86" stroke-width="1.6"/><ellipse cx="1282.4" cy="176" rx="16.1" ry="16" transform="rotate(90.5 1282.4 176)" fill="#5b5e96" stroke="#4a4c86" stroke-width="1.6"/><ellipse cx="1282.4" cy="176" rx="3.2" ry="3.5" transform="rotate(90.5 1282.4 176)" fill="#b8c8d8" opacity="0.9"/><ellipse cx="1321.5" cy="177.6" rx="15.4" ry="16.3" transform="rotate(31.3 1321.5 177.6)" fill="#5b5e96" stroke="#4a4c86" stroke-width="1.6"/><ellipse cx="1233.1" cy="206.1" rx="16.5" ry="16" transform="rotate(121.5 1233.1 206.1)" fill="#5b5e96" stroke="#4a4c86" stroke-width="1.6"/><ellipse cx="1264.8" cy="206.9" rx="16.8" ry="15.7" transform="rotate(29.3 1264.8 206.9)" fill="#5b5e96" stroke="#4a4c86" stroke-width="1.6"/><ellipse cx="1264.8" cy="206.9" rx="3.4" ry="3.5" transform="rotate(29.3 1264.8 206.9)" fill="#b8c8d8" opacity="0.9"/><ellipse cx="1300.5" cy="204.1" rx="16.6" ry="16.3" transform="rotate(1.9 1300.5 204.1)" fill="#5b5e96" stroke="#4a4c86" stroke-width="1.6"/><ellipse cx="1334.9" cy="204.7" rx="16.6" ry="15.7" transform="rotate(96.8 1334.9 204.7)" fill="#5b5e96" stroke="#4a4c86" stroke-width="1.6"/><ellipse cx="1334.9" cy="204.7" rx="3.3" ry="3.5" transform="rotate(96.8 1334.9 204.7)" fill="#b8c8d8" opacity="0.9"/><ellipse cx="1282.8" cy="235.1" rx="17" ry="17.6" transform="rotate(55.5 1282.8 235.1)" fill="#5b5e96" stroke="#4a4c86" stroke-width="1.6"/><ellipse cx="1318.5" cy="235.3" rx="17.4" ry="17.5" transform="rotate(164.6 1318.5 235.3)" fill="#5b5e96" stroke="#4a4c86" stroke-width="1.6"/><ellipse cx="1318.5" cy="235.3" rx="3.5" ry="3.8" transform="rotate(164.6 1318.5 235.3)" fill="#b8c8d8" opacity="0.9"/></g>
<polyline points="970,73.2 985,71.2 998,77.2 1010,83.2 1019,87.2 1030,73.2 1040,63.2 1055,61.2 1062,62.2 1076,56.2 1090,56.2 1100,58.2 1110,63.2 1118,69.2 1125,85.2 1132,69.2 1150,67.2 1170,71.2 1200,78.2 1215,77.2 1230,87.2 1255,92.2 1262,105.2 1270,102.2 1285,107.2 1300,124.2 1310,142.2 1308,156.2 1320,169.2 1342,178.2" fill="none" stroke="#4f5288" stroke-width="2.5"/>
</g></g></g>
<g clip-path="url(#cBL)"><g filter="url(#soft)">
<rect x="600" y="307" width="372" height="294" fill="#d9f7f4"/>
<path d="M600 560 L780 545 L972 515 L972 601 L600 601 Z" fill="#d9fafa"/>
<g filter="url(#tx2)">
<path d="M600 383 C603.7 352 615.3 381.4 622 381 C628.7 380.6 633.7 381.3 640 380.5 C646.3 379.7 654.7 377.9 660 376 C665.3 374.1 668.7 368.5 672 369 C675.3 369.5 676.7 375.2 680 379 C683.3 382.8 688.7 391.5 692 392 C695.3 392.5 697.8 381.3 700 382 C702.2 382.7 703.3 396 705 396 C706.7 396 707.5 384.7 710 382 C712.5 379.3 715.8 382.2 720 380 C724.2 377.8 730.8 371.5 735 369 C739.2 366.5 740.8 366.6 745 365 C749.2 363.4 755 360.8 760 359.5 C765 358.2 770 357.1 775 357 C780 356.9 785.7 360.2 790 359 C794.3 357.8 796.8 350.8 801 350 C805.2 349.2 811.3 352.8 815 354 C818.7 355.2 820 357 823 357 C826 357 829.5 356.8 833 354 C836.5 351.2 838.7 342.2 844 340 C849.3 337.8 860.2 340.3 865 341 C869.8 341.7 870.5 344.8 873 344 C875.5 343.2 876.5 337.3 880 336 C883.5 334.7 889.3 334.2 894 336 C898.7 337.8 904.5 343.3 908 347 C911.5 350.7 912.7 357 915 358 C917.3 359 918.3 353.7 922 353 C925.7 352.3 933.3 351.7 937 354 C940.7 356.3 941.7 363.2 944 367 C946.3 370.8 948.7 381 951 377 C953.3 373 954.5 349 958 343 C961.5 337 969.7 311.5 972 341 C974.3 370.5 977.3 489 972 520 C966.7 551 952 525.2 940 527 C928 528.8 910.7 529.5 900 531 C889.3 532.5 886 534.5 876 536 C866 537.5 852.7 538.5 840 540 C827.3 541.5 813.3 543.5 800 545 C786.7 546.5 773.3 547.5 760 549 C746.7 550.5 733.3 552.5 720 554 C706.7 555.5 693.3 556.5 680 558 C666.7 559.5 653.3 561.5 640 563 C626.7 564.5 606.7 597 600 567 C593.3 537 596.3 414 600 383Z" fill="#bfc6da"/>
<path d="M600 517 C606.7 507.8 626.7 514 640 512 C653.3 510 666.7 507 680 505 C693.3 503 706.7 501.3 720 500 C733.3 498.7 746.7 497.7 760 497 C773.3 496.3 786.7 496.3 800 496 C813.3 495.7 826.7 495.5 840 495 C853.3 494.5 866.7 493.2 880 493 C893.3 492.8 904.7 493.5 920 494 C935.3 494.5 963.3 491.7 972 496 C980.7 500.3 977.3 514.8 972 520 C966.7 525.2 952 525.2 940 527 C928 528.8 910.7 529.5 900 531 C889.3 532.5 886 534.5 876 536 C866 537.5 852.7 538.5 840 540 C827.3 541.5 813.3 543.5 800 545 C786.7 546.5 773.3 547.5 760 549 C746.7 550.5 733.3 552.5 720 554 C706.7 555.5 693.3 556.5 680 558 C666.7 559.5 653.3 561.5 640 563 C626.7 564.5 606.7 574.7 600 567 C593.3 559.3 593.3 526.2 600 517Z" fill="#ad9fc0"/>
</g>
<path d="M972 520 C966.7 521.2 952 525.2 940 527 C928 528.8 910.7 529.5 900 531 C889.3 532.5 886 534.5 876 536 C866 537.5 852.7 538.5 840 540 C827.3 541.5 813.3 543.5 800 545 C786.7 546.5 773.3 547.5 760 549 C746.7 550.5 733.3 552.5 720 554 C706.7 555.5 693.3 556.5 680 558 C666.7 559.5 653.3 561.5 640 563 C626.7 564.5 606.7 566.3 600 567" fill="none" stroke="#8d7fae" stroke-width="2.2"/>
<clipPath id="czBL"><path d="M600 383 C603.7 362.3 615.3 381.4 622 381 C628.7 380.6 633.7 381.3 640 380.5 C646.3 379.7 654.7 377.9 660 376 C665.3 374.1 668.7 368.5 672 369 C675.3 369.5 676.7 375.2 680 379 C683.3 382.8 688.7 391.5 692 392 C695.3 392.5 697.8 381.3 700 382 C702.2 382.7 703.3 396 705 396 C706.7 396 707.5 384.7 710 382 C712.5 379.3 715.8 382.2 720 380 C724.2 377.8 730.8 371.5 735 369 C739.2 366.5 740.8 366.6 745 365 C749.2 363.4 755 360.8 760 359.5 C765 358.2 770 357.1 775 357 C780 356.9 785.7 360.2 790 359 C794.3 357.8 796.8 350.8 801 350 C805.2 349.2 811.3 352.8 815 354 C818.7 355.2 820 357 823 357 C826 357 829.5 356.8 833 354 C836.5 351.2 838.7 342.2 844 340 C849.3 337.8 860.2 340.3 865 341 C869.8 341.7 870.5 344.8 873 344 C875.5 343.2 876.5 337.3 880 336 C883.5 334.7 889.3 334.2 894 336 C898.7 337.8 904.5 343.3 908 347 C911.5 350.7 912.7 357 915 358 C917.3 359 918.3 353.7 922 353 C925.7 352.3 933.3 351.7 937 354 C940.7 356.3 941.7 363.2 944 367 C946.3 370.8 948.7 381 951 377 C953.3 373 954.5 349 958 343 C961.5 337 969.7 321.2 972 341 C974.3 360.8 975.7 442.5 972 462 C968.3 481.5 958.7 459.7 950 458 C941.3 456.3 930 452.5 920 452 C910 451.5 900 453.7 890 455 C880 456.3 870 458.8 860 460 C850 461.2 840 460.7 830 462 C820 463.3 811.7 465.7 800 468 C788.3 470.3 773.3 473 760 476 C746.7 479 733.3 482.8 720 486 C706.7 489.2 693.3 492.7 680 495 C666.7 497.3 653.3 498.3 640 500 C626.7 501.7 606.7 524.5 600 505 C593.3 485.5 596.3 403.7 600 383Z"/></clipPath>
<g filter="url(#tx)">
<path d="M600 383 C603.7 362.3 615.3 381.4 622 381 C628.7 380.6 633.7 381.3 640 380.5 C646.3 379.7 654.7 377.9 660 376 C665.3 374.1 668.7 368.5 672 369 C675.3 369.5 676.7 375.2 680 379 C683.3 382.8 688.7 391.5 692 392 C695.3 392.5 697.8 381.3 700 382 C702.2 382.7 703.3 396 705 396 C706.7 396 707.5 384.7 710 382 C712.5 379.3 715.8 382.2 720 380 C724.2 377.8 730.8 371.5 735 369 C739.2 366.5 740.8 366.6 745 365 C749.2 363.4 755 360.8 760 359.5 C765 358.2 770 357.1 775 357 C780 356.9 785.7 360.2 790 359 C794.3 357.8 796.8 350.8 801 350 C805.2 349.2 811.3 352.8 815 354 C818.7 355.2 820 357 823 357 C826 357 829.5 356.8 833 354 C836.5 351.2 838.7 342.2 844 340 C849.3 337.8 860.2 340.3 865 341 C869.8 341.7 870.5 344.8 873 344 C875.5 343.2 876.5 337.3 880 336 C883.5 334.7 889.3 334.2 894 336 C898.7 337.8 904.5 343.3 908 347 C911.5 350.7 912.7 357 915 358 C917.3 359 918.3 353.7 922 353 C925.7 352.3 933.3 351.7 937 354 C940.7 356.3 941.7 363.2 944 367 C946.3 370.8 948.7 381 951 377 C953.3 373 954.5 349 958 343 C961.5 337 969.7 321.2 972 341 C974.3 360.8 975.7 442.5 972 462 C968.3 481.5 958.7 459.7 950 458 C941.3 456.3 930 452.5 920 452 C910 451.5 900 453.7 890 455 C880 456.3 870 458.8 860 460 C850 461.2 840 460.7 830 462 C820 463.3 811.7 465.7 800 468 C788.3 470.3 773.3 473 760 476 C746.7 479 733.3 482.8 720 486 C706.7 489.2 693.3 492.7 680 495 C666.7 497.3 653.3 498.3 640 500 C626.7 501.7 606.7 524.5 600 505 C593.3 485.5 596.3 403.7 600 383Z" fill="#b6c3d7"/>
<g clip-path="url(#czBL)">
<ellipse cx="598" cy="442.6" rx="13.4" ry="61.6" transform="rotate(-2 598 442.6)" fill="#5d6097" stroke="#4b4e86" stroke-width="1.6"/>
<ellipse cx="598" cy="450.6" rx="2.3" ry="33.9" transform="rotate(-2 598 450.6)" fill="#a7b6cc" opacity="0.75"/>
<ellipse cx="626.4" cy="440" rx="13.1" ry="61.1" transform="rotate(-2 626.4 440)" fill="#5d6097" stroke="#4b4e86" stroke-width="1.6"/>
<ellipse cx="626.4" cy="448" rx="2.2" ry="33.6" transform="rotate(-2 626.4 448)" fill="#a7b6cc" opacity="0.75"/>
<ellipse cx="654.1" cy="433.6" rx="16.2" ry="58.3" transform="rotate(1.7 654.1 433.6)" fill="#5d6097" stroke="#4b4e86" stroke-width="1.6"/>
<ellipse cx="654.1" cy="441.6" rx="2.7" ry="32" transform="rotate(1.7 654.1 441.6)" fill="#a7b6cc" opacity="0.75"/>
<ellipse cx="688" cy="437.3" rx="13.4" ry="51.6" transform="rotate(-3.2 688 437.3)" fill="#5d6097" stroke="#4b4e86" stroke-width="1.6"/>
<ellipse cx="688" cy="445.3" rx="2.3" ry="28.4" transform="rotate(-3.2 688 445.3)" fill="#a7b6cc" opacity="0.75"/>
<ellipse cx="716.2" cy="432.4" rx="13.2" ry="53.6" transform="rotate(-3.9 716.2 432.4)" fill="#5d6097" stroke="#4b4e86" stroke-width="1.6"/>
<ellipse cx="716.2" cy="440.4" rx="2.2" ry="29.5" transform="rotate(-3.9 716.2 440.4)" fill="#a7b6cc" opacity="0.75"/>
<ellipse cx="744.1" cy="418.3" rx="16.2" ry="55" transform="rotate(2.1 744.1 418.3)" fill="#5d6097" stroke="#4b4e86" stroke-width="1.6"/>
<ellipse cx="744.1" cy="426.3" rx="2.8" ry="30.2" transform="rotate(2.1 744.1 426.3)" fill="#a7b6cc" opacity="0.75"/>
<ellipse cx="778" cy="413.1" rx="15.7" ry="57.7" transform="rotate(-2.9 778 413.1)" fill="#5d6097" stroke="#4b4e86" stroke-width="1.6"/>
<ellipse cx="778" cy="421.1" rx="2.7" ry="31.7" transform="rotate(-2.9 778 421.1)" fill="#a7b6cc" opacity="0.75"/>
<ellipse cx="811" cy="405.4" rx="15" ry="54.6" transform="rotate(2.5 811 405.4)" fill="#5d6097" stroke="#4b4e86" stroke-width="1.6"/>
<ellipse cx="811" cy="413.4" rx="2.6" ry="30" transform="rotate(2.5 811 413.4)" fill="#a7b6cc" opacity="0.75"/>
<ellipse cx="842.5" cy="400.2" rx="16" ry="60.3" transform="rotate(0.1 842.5 400.2)" fill="#5d6097" stroke="#4b4e86" stroke-width="1.6"/>
<ellipse cx="842.5" cy="408.2" rx="2.7" ry="33.1" transform="rotate(0.1 842.5 408.2)" fill="#a7b6cc" opacity="0.75"/>
<ellipse cx="876" cy="395.9" rx="15.2" ry="57.4" transform="rotate(-4.2 876 395.9)" fill="#5d6097" stroke="#4b4e86" stroke-width="1.6"/>
<ellipse cx="876" cy="403.9" rx="2.6" ry="31.5" transform="rotate(-4.2 876 403.9)" fill="#a7b6cc" opacity="0.75"/>
<ellipse cx="907.9" cy="398.7" rx="14.4" ry="53.8" transform="rotate(3.3 907.9 398.7)" fill="#5d6097" stroke="#4b4e86" stroke-width="1.6"/>
<ellipse cx="907.9" cy="406.7" rx="2.4" ry="29.6" transform="rotate(3.3 907.9 406.7)" fill="#a7b6cc" opacity="0.75"/>
<ellipse cx="938.2" cy="402.7" rx="16" ry="48.5" transform="rotate(-3 938.2 402.7)" fill="#5d6097" stroke="#4b4e86" stroke-width="1.6"/>
<ellipse cx="938.2" cy="410.7" rx="2.7" ry="26.7" transform="rotate(-3 938.2 410.7)" fill="#a7b6cc" opacity="0.75"/>
<ellipse cx="971.6" cy="398.2" rx="16.1" ry="59.1" transform="rotate(2.8 971.6 398.2)" fill="#5d6097" stroke="#4b4e86" stroke-width="1.6"/>
<ellipse cx="971.6" cy="406.2" rx="2.7" ry="32.5" transform="rotate(2.8 971.6 406.2)" fill="#a7b6cc" opacity="0.75"/>
</g>
</g>
<ellipse cx="656" cy="398" rx="3" ry="10" transform="rotate(0 656 398)" fill="#d9f7f4"/>
<ellipse cx="693" cy="390" rx="5" ry="8" transform="rotate(5 693 390)" fill="#d9f7f4"/>
<ellipse cx="712" cy="411" rx="2.2" ry="7" transform="rotate(0 712 411)" fill="#d9f7f4"/>
<ellipse cx="746" cy="400" rx="2.2" ry="5" transform="rotate(0 746 400)" fill="#d9f7f4"/>
<ellipse cx="826" cy="385" rx="3.5" ry="22" transform="rotate(-25 826 385)" fill="#d9f7f4"/>
<ellipse cx="873" cy="360" rx="5" ry="7" transform="rotate(0 873 360)" fill="#d9f7f4"/>
<ellipse cx="949" cy="366" rx="6" ry="12" transform="rotate(10 949 366)" fill="#d9f7f4"/>
<polyline points="600,384.2 622,382.2 640,381.7 660,377.2 672,370.2 680,380.2 692,393.2 700,383.2 705,397.2 710,383.2 720,381.2 735,370.2 745,366.2 760,360.7 775,358.2 790,360.2 801,351.2 815,355.2 823,358.2 833,355.2 844,341.2 865,342.2 873,345.2 880,337.2 894,337.2 908,348.2 915,359.2 922,354.2 937,355.2 944,368.2 951,378.2 958,344.2 972,342.2" fill="none" stroke="#4f5288" stroke-width="2.5"/>
</g></g>
<g clip-path="url(#cBR)"><g filter="url(#soft)">
<rect x="970" y="309" width="373" height="293" fill="#d3f9fb"/>
<g filter="url(#tx2)">
<polygon points="970,460 990,458 1010,458 1030,456 1050,454 1070,452 1090,449 1110,447 1130,446 1150,445 1175,444 1200,443 1230,442 1257,439 1260,442 1280,438 1310,437 1342,437 1342,516 1300,517 1250,519 1200,521 1150,525 1108,527 1060,532 1020,537 970,542" fill="#c2c8da"/>
</g>
<g filter="url(#tx)">
<polygon points="970,460 990,458 1010,458 1030,456 1050,454 1070,452 1090,449 1110,447 1130,446 1150,445 1175,444 1200,443 1230,442 1257,439 1260,442 1280,438 1310,437 1342,437 1342,481 1300,482 1250,484 1200,486 1150,490 1100,493 1050,498 1000,501 970,503" fill="#bac8da"/>
<clipPath id="czBR"><polygon points="970,460 990,458 1010,458 1030,456 1050,454 1070,452 1090,449 1110,447 1130,446 1150,445 1175,444 1200,443 1230,442 1257,439 1260,442 1280,438 1310,437 1342,437 1342,481 1300,482 1250,484 1200,486 1150,490 1100,493 1050,498 1000,501 970,503"/></clipPath>
<g clip-path="url(#czBR)">
<ellipse cx="977.9" cy="477.5" rx="12.2" ry="24" fill="#5a5d95" stroke="#4a4c86" stroke-width="1.6"/>
<circle cx="974.3" cy="483.7" r="1.6" fill="#a8bbd0" opacity="0.85"/>
<circle cx="977.9" cy="484.1" r="1.7" fill="#a8bbd0" opacity="0.85"/>
<circle cx="978.4" cy="480.2" r="1.6" fill="#a8bbd0" opacity="0.85"/>
<ellipse cx="1002.8" cy="476" rx="12.5" ry="24" fill="#5a5d95" stroke="#4a4c86" stroke-width="1.6"/>
<circle cx="1002.4" cy="480.2" r="1.8" fill="#a8bbd0" opacity="0.85"/>
<circle cx="1000.2" cy="471.6" r="2.2" fill="#a8bbd0" opacity="0.85"/>
<circle cx="1007.1" cy="478.3" r="2.5" fill="#a8bbd0" opacity="0.85"/>
<ellipse cx="1028.1" cy="474.5" rx="12.5" ry="24.1" fill="#5a5d95" stroke="#4a4c86" stroke-width="1.6"/>
<circle cx="1024.1" cy="472.6" r="2.4" fill="#a8bbd0" opacity="0.85"/>
<circle cx="1030.3" cy="474.4" r="1.7" fill="#a8bbd0" opacity="0.85"/>
<circle cx="1025.7" cy="471.4" r="1.9" fill="#a8bbd0" opacity="0.85"/>
<ellipse cx="1054.5" cy="472.9" rx="12" ry="24.1" fill="#5a5d95" stroke="#4a4c86" stroke-width="1.6"/>
<circle cx="1058.4" cy="479.2" r="1.7" fill="#a8bbd0" opacity="0.85"/>
<circle cx="1053.3" cy="473.8" r="1.6" fill="#a8bbd0" opacity="0.85"/>
<circle cx="1053.8" cy="479.6" r="1.7" fill="#a8bbd0" opacity="0.85"/>
<ellipse cx="1079.1" cy="471.4" rx="11.9" ry="24.2" fill="#5a5d95" stroke="#4a4c86" stroke-width="1.6"/>
<circle cx="1079.9" cy="477.9" r="1.8" fill="#a8bbd0" opacity="0.85"/>
<circle cx="1074.2" cy="466.6" r="2.2" fill="#a8bbd0" opacity="0.85"/>
<circle cx="1074.3" cy="466.6" r="2.2" fill="#a8bbd0" opacity="0.85"/>
<ellipse cx="1105.3" cy="469.8" rx="12.2" ry="24.2" fill="#5a5d95" stroke="#4a4c86" stroke-width="1.6"/>
<circle cx="1104.2" cy="472.8" r="1.7" fill="#a8bbd0" opacity="0.85"/>
<circle cx="1106.1" cy="466.2" r="2.3" fill="#a8bbd0" opacity="0.85"/>
<circle cx="1109.8" cy="464.6" r="2.3" fill="#a8bbd0" opacity="0.85"/>
<ellipse cx="1129.5" cy="468.3" rx="11.9" ry="24.2" fill="#5a5d95" stroke="#4a4c86" stroke-width="1.6"/>
<circle cx="1127.2" cy="476.3" r="2.8" fill="#a8bbd0" opacity="0.85"/>
<circle cx="1125.7" cy="472.2" r="2.7" fill="#a8bbd0" opacity="0.85"/>
<circle cx="1126.9" cy="470.9" r="1.7" fill="#a8bbd0" opacity="0.85"/>
<ellipse cx="1154" cy="466.9" rx="12.5" ry="24.3" fill="#5a5d95" stroke="#4a4c86" stroke-width="1.6"/>
<circle cx="1154.9" cy="471.7" r="1.7" fill="#a8bbd0" opacity="0.85"/>
<circle cx="1152.5" cy="473" r="2.3" fill="#a8bbd0" opacity="0.85"/>
<circle cx="1153.5" cy="466.5" r="2.8" fill="#a8bbd0" opacity="0.85"/>
<ellipse cx="1179.8" cy="465.3" rx="11.8" ry="24.3" fill="#5a5d95" stroke="#4a4c86" stroke-width="1.6"/>
<circle cx="1182.8" cy="463.9" r="2.1" fill="#a8bbd0" opacity="0.85"/>
<circle cx="1177" cy="465.5" r="2" fill="#a8bbd0" opacity="0.85"/>
<circle cx="1175.7" cy="468.1" r="1.7" fill="#a8bbd0" opacity="0.85"/>
<ellipse cx="1205.7" cy="463.7" rx="11.8" ry="24.4" fill="#5a5d95" stroke="#4a4c86" stroke-width="1.6"/>
<circle cx="1208.5" cy="469" r="2.2" fill="#a8bbd0" opacity="0.85"/>
<circle cx="1207.7" cy="461.2" r="2.5" fill="#a8bbd0" opacity="0.85"/>
<circle cx="1204.9" cy="461" r="2.8" fill="#a8bbd0" opacity="0.85"/>
<ellipse cx="1229.7" cy="462.3" rx="12.2" ry="24.4" fill="#5a5d95" stroke="#4a4c86" stroke-width="1.6"/>
<circle cx="1233.3" cy="461.5" r="2.4" fill="#a8bbd0" opacity="0.85"/>
<circle cx="1226.4" cy="468.1" r="1.9" fill="#a8bbd0" opacity="0.85"/>
<circle cx="1225.2" cy="469.9" r="1.8" fill="#a8bbd0" opacity="0.85"/>
<ellipse cx="1256.5" cy="460.7" rx="12.8" ry="24.4" fill="#5a5d95" stroke="#4a4c86" stroke-width="1.6"/>
<circle cx="1257.6" cy="454.8" r="1.7" fill="#a8bbd0" opacity="0.85"/>
<circle cx="1253.6" cy="460.1" r="2.3" fill="#a8bbd0" opacity="0.85"/>
<circle cx="1261.2" cy="459.6" r="1.8" fill="#a8bbd0" opacity="0.85"/>
<ellipse cx="1280.6" cy="459.2" rx="11.9" ry="24.5" fill="#5a5d95" stroke="#4a4c86" stroke-width="1.6"/>
<circle cx="1276.5" cy="461" r="2.4" fill="#a8bbd0" opacity="0.85"/>
<circle cx="1276.2" cy="459.5" r="2.4" fill="#a8bbd0" opacity="0.85"/>
<circle cx="1283.2" cy="458.6" r="2.7" fill="#a8bbd0" opacity="0.85"/>
<ellipse cx="1304.6" cy="457.8" rx="12.5" ry="24.5" fill="#5a5d95" stroke="#4a4c86" stroke-width="1.6"/>
<circle cx="1307.3" cy="464.1" r="2.2" fill="#a8bbd0" opacity="0.85"/>
<circle cx="1300.6" cy="452.4" r="2.2" fill="#a8bbd0" opacity="0.85"/>
<circle cx="1301.3" cy="460.6" r="1.7" fill="#a8bbd0" opacity="0.85"/>
<ellipse cx="1331.6" cy="456.1" rx="12" ry="24.5" fill="#5a5d95" stroke="#4a4c86" stroke-width="1.6"/>
<circle cx="1326.8" cy="452.6" r="2.1" fill="#a8bbd0" opacity="0.85"/>
<circle cx="1332.2" cy="455.6" r="1.8" fill="#a8bbd0" opacity="0.85"/>
<circle cx="1331.5" cy="463.4" r="2.2" fill="#a8bbd0" opacity="0.85"/>
</g>
<polyline points="970,461.2 990,459.2 1010,459.2 1030,457.2 1050,455.2 1070,453.2 1090,450.2 1110,448.2 1130,447.2 1150,446.2 1175,445.2 1200,444.2 1230,443.2 1257,440.2 1260,443.2 1280,439.2 1310,438.2 1342,438.2" fill="none" stroke="#4f5288" stroke-width="2.5"/>
</g>
<path d="M970 506 L1342 486" stroke="#e2eef2" stroke-width="2.5"/>
<ellipse cx="1163" cy="504" rx="24" ry="3.5" fill="#e6f0f2"/>
<path d="M970 522 L1080 512" stroke="#dde9ee" stroke-width="2.5"/>
<path d="M975 532 L1040 526" stroke="#dde9ee" stroke-width="2"/>
<path d="M1200 500 L1340 494" stroke="#dde9ee" stroke-width="1.6"/>
<path d="M1000 514 L1150 503" stroke="#dde9ee" stroke-width="1.4"/>
<path d="M1220 508 L1340 503" stroke="#dde9ee" stroke-width="1.4"/>
</g></g>
<g fill="none" stroke="#000" stroke-width="4"><rect x="602.6" y="22" width="368.4" height="286.6"/><rect x="971.2" y="21.7" width="368.5" height="288.9"/><rect x="603" y="308.6" width="368" height="290.2"/><rect x="971.2" y="310.6" width="369.3" height="289"/></g>
<line x1="881" y1="295.8" x2="962" y2="295.8" stroke="#000" stroke-width="2.7"/>
<text x="921.5" y="289.5" font-size="13" text-anchor="middle">200 &#181;m</text>
<line x1="1226" y1="296.5" x2="1331" y2="296.5" stroke="#000" stroke-width="2.7"/>
<text x="1278.5" y="290" font-size="13" text-anchor="middle">200 &#181;m</text>
<line x1="881" y1="583.2" x2="962" y2="583.2" stroke="#000" stroke-width="2.7"/>
<text x="921.5" y="577.5" font-size="13" text-anchor="middle">200 &#181;m</text>
<line x1="1230.6" y1="583.7" x2="1328.8" y2="583.7" stroke="#000" stroke-width="2.7"/>
<text x="1279.7" y="579" font-size="13" text-anchor="middle">200 &#181;m</text>
<text x="611" y="52" font-size="24" font-weight="bold">H<tspan font-size="16" dy="5">2</tspan><tspan dy="-5">O</tspan></text>
<text x="986" y="52" font-size="23.5" font-weight="bold" textLength="43.5" lengthAdjust="spacingAndGlyphs">DSS</text>
<text x="610.5" y="338.8" font-size="23.5" font-weight="bold" textLength="226" lengthAdjust="spacingAndGlyphs">DSS + <tspan font-style="italic">Dab2</tspan><tspan font-size="17" dy="-9.5">-/-</tspan><tspan dy="9.5"> DC2.4</tspan></text>
<text x="990" y="338.7" font-size="23.5" font-weight="bold" textLength="188" lengthAdjust="spacingAndGlyphs">DSS + WT DC2.4</text>
<text x="545.5" y="32" font-size="32.5" font-weight="bold">C</text>
<text x="9.6" y="706.6" font-size="31" font-weight="bold">D</text>
<text x="222" y="732.5" font-size="26" text-anchor="middle" textLength="68" lengthAdjust="spacingAndGlyphs">Day 4</text>
<text x="507" y="732.5" font-size="26" text-anchor="middle" textLength="68" lengthAdjust="spacingAndGlyphs">Day 9</text>
<text x="892.5" y="732.5" font-size="26" text-anchor="middle" textLength="68" lengthAdjust="spacingAndGlyphs">Day 4</text>
<text x="1181" y="732.5" font-size="26" text-anchor="middle" textLength="68" lengthAdjust="spacingAndGlyphs">Day 9</text>
<rect x="6.8" y="743.7" width="649.7" height="349.3" fill="none" stroke="#245b93" stroke-width="2.4"/>
<rect x="665.8" y="743.7" width="649.8" height="349.3" fill="none" stroke="#245b93" stroke-width="2.4"/>
<rect x="6.8" y="1101.4" width="649.7" height="348.8" fill="none" stroke="#245b93" stroke-width="2.4"/>
<rect x="665.7" y="1100.6" width="648.9" height="348.8" fill="none" stroke="#245b93" stroke-width="2.4"/>
<rect x="6.8" y="1457.9" width="648.7" height="349.4" fill="none" stroke="#245b93" stroke-width="2.4"/>
<rect x="665.8" y="1458.6" width="649.8" height="348.7" fill="none" stroke="#245b93" stroke-width="2.4"/>
<path d="M74.8 763.8 V1026.8 H331" fill="none" stroke="#000" stroke-width="2.0"/>
<line x1="69.8" y1="763.8" x2="74.8" y2="763.8" stroke="#000" stroke-width="2.0"/>
<text x="67" y="770.6" font-size="18.5" text-anchor="end">40</text>
<line x1="69.8" y1="830.9" x2="74.8" y2="830.9" stroke="#000" stroke-width="2.0"/>
<text x="67" y="837.7" font-size="18.5" text-anchor="end">30</text>
<line x1="69.8" y1="896" x2="74.8" y2="896" stroke="#000" stroke-width="2.0"/>
<text x="67" y="902.8" font-size="18.5" text-anchor="end">20</text>
<line x1="69.8" y1="961.1" x2="74.8" y2="961.1" stroke="#000" stroke-width="2.0"/>
<text x="67" y="967.9" font-size="18.5" text-anchor="end">10</text>
<line x1="69.8" y1="1026.8" x2="74.8" y2="1026.8" stroke="#000" stroke-width="2.0"/>
<text x="67" y="1033.6" font-size="18.5" text-anchor="end">0</text>
<line x1="113.4" y1="1026.8" x2="113.4" y2="1031.3" stroke="#000" stroke-width="2.0"/>
<line x1="172.5" y1="1026.8" x2="172.5" y2="1031.3" stroke="#000" stroke-width="2.0"/>
<line x1="231.1" y1="1026.8" x2="231.1" y2="1031.3" stroke="#000" stroke-width="2.0"/>
<line x1="290" y1="1026.8" x2="290" y2="1031.3" stroke="#000" stroke-width="2.0"/>
<text x="99" y="1050.9" font-size="16" textLength="26" lengthAdjust="spacingAndGlyphs">PBS</text>
<text x="156.1" y="1050.9" font-size="16" textLength="26" lengthAdjust="spacingAndGlyphs">PBS</text>
<text x="199" y="1050.9" font-size="16.5" textLength="54.5" lengthAdjust="spacingAndGlyphs"><tspan font-style="italic">Dab2</tspan><tspan font-size="11" dy="-6.5">WT</tspan></text>
<text x="272.7" y="1050.9" font-size="16.5" textLength="50.2" lengthAdjust="spacingAndGlyphs"><tspan font-style="italic">Dab2</tspan><tspan font-size="12" dy="-6.5">-/-</tspan></text>
<line x1="76.5" y1="1059.1" x2="143.5" y2="1059.1" stroke="#000" stroke-width="2.0"/>
<line x1="153.2" y1="1059.1" x2="331.2" y2="1059.1" stroke="#000" stroke-width="2.0"/>
<text x="113.4" y="1079.4" font-size="18" text-anchor="middle">H<tspan font-size="12.5" dy="4">2</tspan><tspan dy="-4">O</tspan></text>
<text x="232.8" y="1080.9" font-size="18" text-anchor="middle" textLength="60" lengthAdjust="spacingAndGlyphs">3% DSS</text>
<line x1="95.3" y1="1019.5" x2="132.7" y2="1019.5" stroke="#000" stroke-width="2.0"/>
<line x1="153.7" y1="956.3" x2="191.8" y2="956.3" stroke="#000" stroke-width="2.0"/>
<line x1="172.5" y1="937.7" x2="172.5" y2="974.4" stroke="#000" stroke-width="2.0"/>
<line x1="162.8" y1="937.7" x2="182.1" y2="937.7" stroke="#000" stroke-width="2.0"/>
<line x1="162.8" y1="974.4" x2="182.1" y2="974.4" stroke="#000" stroke-width="2.0"/>
<line x1="212.3" y1="982.9" x2="250.2" y2="982.9" stroke="#000" stroke-width="2.0"/>
<line x1="231.1" y1="979.2" x2="231.1" y2="985.3" stroke="#000" stroke-width="2.0"/>
<line x1="221.9" y1="979.2" x2="240" y2="979.2" stroke="#000" stroke-width="2.0"/>
<line x1="221.9" y1="985.3" x2="240" y2="985.3" stroke="#000" stroke-width="2.0"/>
<line x1="270.9" y1="932.2" x2="309.5" y2="932.2" stroke="#000" stroke-width="2.0"/>
<line x1="290" y1="890" x2="290" y2="975.1" stroke="#000" stroke-width="2.0"/>
<line x1="281.1" y1="890" x2="299.9" y2="890" stroke="#000" stroke-width="2.0"/>
<line x1="281.1" y1="975.1" x2="299.9" y2="975.1" stroke="#000" stroke-width="2.0"/>
<path d="M98.9 1014 L102.9 1020.9 L94.9 1020.9 Z" fill="#fff" stroke="#000" stroke-width="1.5"/>
<path d="M104.9 1016.4 L108.9 1023.3 L100.9 1023.3 Z" fill="#fff" stroke="#000" stroke-width="1.5"/>
<path d="M112.2 1019.1 L116.2 1026 L108.2 1026 Z" fill="#fff" stroke="#000" stroke-width="1.5"/>
<path d="M119.4 1016 L123.4 1022.9 L115.4 1022.9 Z" fill="#fff" stroke="#000" stroke-width="1.5"/>
<path d="M127.8 1014 L131.8 1020.9 L123.8 1020.9 Z" fill="#fff" stroke="#000" stroke-width="1.5"/>
<circle cx="172.5" cy="929.3" r="3.3" fill="#fff" stroke="#000" stroke-width="1.6"/>
<circle cx="167.7" cy="949.6" r="3.3" fill="#fff" stroke="#000" stroke-width="1.6"/>
<circle cx="177.8" cy="955.1" r="3.3" fill="#fff" stroke="#000" stroke-width="1.6"/>
<circle cx="177.8" cy="969.8" r="3.3" fill="#fff" stroke="#000" stroke-width="1.6"/>
<circle cx="167.7" cy="976.8" r="3.3" fill="#fff" stroke="#000" stroke-width="1.6"/>
<rect x="213.4" y="978.5" width="6.4" height="6.4" fill="#fff" stroke="#000" stroke-width="1.5"/>
<rect x="227.9" y="973.6" width="6.4" height="6.4" fill="#fff" stroke="#000" stroke-width="1.5"/>
<rect x="233.2" y="982.1" width="6.4" height="6.4" fill="#fff" stroke="#000" stroke-width="1.5"/>
<rect x="242.9" y="976.8" width="6.4" height="6.4" fill="#fff" stroke="#000" stroke-width="1.5"/>
<rect x="222.8" y="988.1" width="6.4" height="6.4" fill="#fff" stroke="#000" stroke-width="1.5"/>
<circle cx="290.2" cy="859.8" r="3.6" fill="#000"/>
<circle cx="290.2" cy="930.3" r="3.6" fill="#000"/>
<circle cx="289.5" cy="953.4" r="3.6" fill="#000"/>
<circle cx="295.5" cy="955.1" r="3.6" fill="#000"/>
<circle cx="284.7" cy="964.8" r="3.6" fill="#000"/>
<text x="175.1" y="898" font-size="19" text-anchor="middle" letter-spacing="2.8">**</text>
<text x="292.1" y="847.6" font-size="19" text-anchor="middle" letter-spacing="2.8">***</text>
<path d="M229.9 975.6 V809.1 H289.5 V943.3" fill="none" stroke="#000" stroke-width="2.2"/>
<text x="261.8" y="801.9" font-size="16" text-anchor="middle">#</text>
<text x="94.1" y="820.7" font-size="35" textLength="65.6" lengthAdjust="spacingAndGlyphs">TNF</text>
<text transform="translate(35.6 953.9) rotate(-90)" font-size="19" textLength="141.1" lengthAdjust="spacingAndGlyphs"><tspan font-style="italic">Tnf/Tbp</tspan> (2<tspan font-size="12" dy="-7">-&#916;&#916;Ct</tspan><tspan dy="7">)</tspan></text>
<path d="M367.5 765.3 V1025.5 H630.2" fill="none" stroke="#000" stroke-width="2.0"/>
<line x1="362.5" y1="765.3" x2="367.5" y2="765.3" stroke="#000" stroke-width="2.0"/>
<text x="359.7" y="772.1" font-size="18.5" text-anchor="end">60</text>
<line x1="362.5" y1="852.3" x2="367.5" y2="852.3" stroke="#000" stroke-width="2.0"/>
<text x="359.7" y="859.1" font-size="18.5" text-anchor="end">40</text>
<line x1="362.5" y1="939.1" x2="367.5" y2="939.1" stroke="#000" stroke-width="2.0"/>
<text x="359.7" y="945.9" font-size="18.5" text-anchor="end">20</text>
<line x1="362.5" y1="1025.5" x2="367.5" y2="1025.5" stroke="#000" stroke-width="2.0"/>
<text x="359.7" y="1032.3" font-size="18.5" text-anchor="end">0</text>
<line x1="408.1" y1="1025.5" x2="408.1" y2="1030" stroke="#000" stroke-width="2.0"/>
<line x1="468.9" y1="1025.5" x2="468.9" y2="1030" stroke="#000" stroke-width="2.0"/>
<line x1="528.9" y1="1025.5" x2="528.9" y2="1030" stroke="#000" stroke-width="2.0"/>
<line x1="588.9" y1="1025.5" x2="588.9" y2="1030" stroke="#000" stroke-width="2.0"/>
<text x="393.7" y="1049.7" font-size="16" textLength="26" lengthAdjust="spacingAndGlyphs">PBS</text>
<text x="452.5" y="1049.7" font-size="16" textLength="26" lengthAdjust="spacingAndGlyphs">PBS</text>
<text x="496.8" y="1049.7" font-size="16.5" textLength="54.5" lengthAdjust="spacingAndGlyphs"><tspan font-style="italic">Dab2</tspan><tspan font-size="11" dy="-6.5">WT</tspan></text>
<text x="571.6" y="1049.7" font-size="16.5" textLength="50.2" lengthAdjust="spacingAndGlyphs"><tspan font-style="italic">Dab2</tspan><tspan font-size="12" dy="-6.5">-/-</tspan></text>
<line x1="373.8" y1="1059.2" x2="440.1" y2="1059.2" stroke="#000" stroke-width="2.0"/>
<line x1="449.6" y1="1059.2" x2="627.2" y2="1059.2" stroke="#000" stroke-width="2.0"/>
<text x="408.1" y="1078" font-size="18" text-anchor="middle">H<tspan font-size="12.5" dy="4">2</tspan><tspan dy="-4">O</tspan></text>
<text x="529.7" y="1079.5" font-size="18" text-anchor="middle" textLength="60" lengthAdjust="spacingAndGlyphs">3% DSS</text>
<line x1="388.8" y1="1021.2" x2="427.6" y2="1021.2" stroke="#000" stroke-width="2.0"/>
<line x1="448.8" y1="957.2" x2="488.4" y2="957.2" stroke="#000" stroke-width="2.0"/>
<line x1="468.9" y1="899.9" x2="468.9" y2="1013.7" stroke="#000" stroke-width="2.0"/>
<line x1="459.6" y1="899.9" x2="478.1" y2="899.9" stroke="#000" stroke-width="2.0"/>
<line x1="459.6" y1="1013.7" x2="478.1" y2="1013.7" stroke="#000" stroke-width="2.0"/>
<line x1="508.9" y1="977.2" x2="548.9" y2="977.2" stroke="#000" stroke-width="2.0"/>
<line x1="528.9" y1="947.4" x2="528.9" y2="1006.7" stroke="#000" stroke-width="2.0"/>
<line x1="518.9" y1="947.4" x2="538.4" y2="947.4" stroke="#000" stroke-width="2.0"/>
<line x1="518.9" y1="1006.7" x2="538.4" y2="1006.7" stroke="#000" stroke-width="2.0"/>
<line x1="569.4" y1="971.7" x2="609" y2="971.7" stroke="#000" stroke-width="2.0"/>
<line x1="588.9" y1="924.9" x2="588.9" y2="1018.5" stroke="#000" stroke-width="2.0"/>
<line x1="579.4" y1="924.9" x2="598.5" y2="924.9" stroke="#000" stroke-width="2.0"/>
<line x1="579.4" y1="1018.5" x2="598.5" y2="1018.5" stroke="#000" stroke-width="2.0"/>
<path d="M392.6 1016.2 L396.6 1023.1 L388.6 1023.1 Z" fill="#fff" stroke="#000" stroke-width="1.5"/>
<path d="M399.6 1017.9 L403.6 1024.8 L395.6 1024.8 Z" fill="#fff" stroke="#000" stroke-width="1.5"/>
<path d="M406.3 1018.7 L410.3 1025.6 L402.3 1025.6 Z" fill="#fff" stroke="#000" stroke-width="1.5"/>
<path d="M413.1 1016.9 L417.1 1023.8 L409.1 1023.8 Z" fill="#fff" stroke="#000" stroke-width="1.5"/>
<path d="M420.1 1016.2 L424.1 1023.1 L416.1 1023.1 Z" fill="#fff" stroke="#000" stroke-width="1.5"/>
<circle cx="468.9" cy="822.1" r="3.3" fill="#fff" stroke="#000" stroke-width="1.6"/>
<circle cx="468.9" cy="879.9" r="3.3" fill="#fff" stroke="#000" stroke-width="1.6"/>
<circle cx="468.9" cy="949.9" r="3.3" fill="#fff" stroke="#000" stroke-width="1.6"/>
<circle cx="474.4" cy="957.9" r="3.3" fill="#fff" stroke="#000" stroke-width="1.6"/>
<circle cx="463.1" cy="962.2" r="3.3" fill="#fff" stroke="#000" stroke-width="1.6"/>
<circle cx="453.8" cy="981.7" r="3.3" fill="#fff" stroke="#000" stroke-width="1.6"/>
<circle cx="483.9" cy="981.7" r="3.3" fill="#fff" stroke="#000" stroke-width="1.6"/>
<circle cx="463.1" cy="987.9" r="3.3" fill="#fff" stroke="#000" stroke-width="1.6"/>
<circle cx="473.1" cy="989.7" r="3.3" fill="#fff" stroke="#000" stroke-width="1.6"/>
<circle cx="463.1" cy="1006.2" r="3.3" fill="#fff" stroke="#000" stroke-width="1.6"/>
<circle cx="473.9" cy="1006.2" r="3.3" fill="#fff" stroke="#000" stroke-width="1.6"/>
<rect x="525.7" y="919.7" width="6.4" height="6.4" fill="#fff" stroke="#000" stroke-width="1.5"/>
<rect x="525.7" y="933.9" width="6.4" height="6.4" fill="#fff" stroke="#000" stroke-width="1.5"/>
<rect x="520.7" y="951" width="6.4" height="6.4" fill="#fff" stroke="#000" stroke-width="1.5"/>
<rect x="531.2" y="954.7" width="6.4" height="6.4" fill="#fff" stroke="#000" stroke-width="1.5"/>
<rect x="520.7" y="984.7" width="6.4" height="6.4" fill="#fff" stroke="#000" stroke-width="1.5"/>
<rect x="531.2" y="980.5" width="6.4" height="6.4" fill="#fff" stroke="#000" stroke-width="1.5"/>
<rect x="510.2" y="991" width="6.4" height="6.4" fill="#fff" stroke="#000" stroke-width="1.5"/>
<rect x="520.7" y="995.5" width="6.4" height="6.4" fill="#fff" stroke="#000" stroke-width="1.5"/>
<rect x="531.2" y="997.2" width="6.4" height="6.4" fill="#fff" stroke="#000" stroke-width="1.5"/>
<rect x="541.2" y="994.7" width="6.4" height="6.4" fill="#fff" stroke="#000" stroke-width="1.5"/>
<rect x="525.7" y="1010.5" width="6.4" height="6.4" fill="#fff" stroke="#000" stroke-width="1.5"/>
<circle cx="588.9" cy="859.8" r="3.6" fill="#000"/>
<circle cx="588.9" cy="932.9" r="3.6" fill="#000"/>
<circle cx="588.9" cy="955.4" r="3.6" fill="#000"/>
<circle cx="594.5" cy="973.7" r="3.6" fill="#000"/>
<circle cx="583.4" cy="981.7" r="3.6" fill="#000"/>
<circle cx="583.4" cy="997.2" r="3.6" fill="#000"/>
<circle cx="594.5" cy="998.4" r="3.6" fill="#000"/>
<circle cx="578.2" cy="1002.4" r="3.6" fill="#000"/>
<circle cx="599.7" cy="1006.7" r="3.6" fill="#000"/>
<circle cx="588.9" cy="1011.2" r="3.6" fill="#000"/>
<text x="470.3" y="807.8" font-size="19" text-anchor="middle" letter-spacing="2.8">**</text>
<path d="M742.7 760.9 V1026.3 H995" fill="none" stroke="#000" stroke-width="2.0"/>
<line x1="737.7" y1="760.9" x2="742.7" y2="760.9" stroke="#000" stroke-width="2.0"/>
<text x="734.9" y="767.7" font-size="18.5" text-anchor="end">600</text>
<line x1="737.7" y1="849.4" x2="742.7" y2="849.4" stroke="#000" stroke-width="2.0"/>
<text x="734.9" y="856.2" font-size="18.5" text-anchor="end">400</text>
<line x1="737.7" y1="937.7" x2="742.7" y2="937.7" stroke="#000" stroke-width="2.0"/>
<text x="734.9" y="944.5" font-size="18.5" text-anchor="end">200</text>
<line x1="737.7" y1="1026.3" x2="742.7" y2="1026.3" stroke="#000" stroke-width="2.0"/>
<text x="734.9" y="1033.1" font-size="18.5" text-anchor="end">0</text>
<line x1="779.4" y1="1026.3" x2="779.4" y2="1030.8" stroke="#000" stroke-width="2.0"/>
<line x1="839" y1="1026.3" x2="839" y2="1030.8" stroke="#000" stroke-width="2.0"/>
<line x1="897.6" y1="1026.3" x2="897.6" y2="1030.8" stroke="#000" stroke-width="2.0"/>
<line x1="955.5" y1="1026.3" x2="955.5" y2="1030.8" stroke="#000" stroke-width="2.0"/>
<text x="765" y="1049.9" font-size="16" textLength="26" lengthAdjust="spacingAndGlyphs">PBS</text>
<text x="822.6" y="1049.9" font-size="16" textLength="26" lengthAdjust="spacingAndGlyphs">PBS</text>
<text x="865.5" y="1049.9" font-size="16.5" textLength="54.5" lengthAdjust="spacingAndGlyphs"><tspan font-style="italic">Dab2</tspan><tspan font-size="11" dy="-6.5">WT</tspan></text>
<text x="938.2" y="1049.9" font-size="16.5" textLength="50.2" lengthAdjust="spacingAndGlyphs"><tspan font-style="italic">Dab2</tspan><tspan font-size="12" dy="-6.5">-/-</tspan></text>
<line x1="745.1" y1="1058.9" x2="811.2" y2="1058.9" stroke="#000" stroke-width="2.0"/>
<line x1="820.4" y1="1058.9" x2="998.7" y2="1058.9" stroke="#000" stroke-width="2.0"/>
<text x="779.4" y="1078.2" font-size="18" text-anchor="middle">H<tspan font-size="12.5" dy="4">2</tspan><tspan dy="-4">O</tspan></text>
<text x="901.2" y="1079.7" font-size="18" text-anchor="middle" textLength="60" lengthAdjust="spacingAndGlyphs">3% DSS</text>
<line x1="763.7" y1="1026.3" x2="798.7" y2="1026.3" stroke="#000" stroke-width="2.0"/>
<line x1="820.4" y1="933.9" x2="858.3" y2="933.9" stroke="#000" stroke-width="2.0"/>
<line x1="839" y1="917" x2="839" y2="950.8" stroke="#000" stroke-width="2.0"/>
<line x1="830.1" y1="917" x2="848.6" y2="917" stroke="#000" stroke-width="2.0"/>
<line x1="830.1" y1="950.8" x2="848.6" y2="950.8" stroke="#000" stroke-width="2.0"/>
<line x1="878.3" y1="979.2" x2="916.9" y2="979.2" stroke="#000" stroke-width="2.0"/>
<line x1="897.6" y1="964.3" x2="897.6" y2="993.7" stroke="#000" stroke-width="2.0"/>
<line x1="888" y1="964.3" x2="907.3" y2="964.3" stroke="#000" stroke-width="2.0"/>
<line x1="888" y1="993.7" x2="907.3" y2="993.7" stroke="#000" stroke-width="2.0"/>
<line x1="936.2" y1="923" x2="974.8" y2="923" stroke="#000" stroke-width="2.0"/>
<line x1="955.5" y1="889.7" x2="955.5" y2="956.3" stroke="#000" stroke-width="2.0"/>
<line x1="945.9" y1="889.7" x2="965.2" y2="889.7" stroke="#000" stroke-width="2.0"/>
<line x1="945.9" y1="956.3" x2="965.2" y2="956.3" stroke="#000" stroke-width="2.0"/>
<path d="M767.3 1022 L771.3 1028.9 L763.3 1028.9 Z" fill="#fff" stroke="#000" stroke-width="1.5"/>
<path d="M774.6 1022 L778.6 1028.9 L770.6 1028.9 Z" fill="#fff" stroke="#000" stroke-width="1.5"/>
<path d="M781.8 1022 L785.8 1028.9 L777.8 1028.9 Z" fill="#fff" stroke="#000" stroke-width="1.5"/>
<path d="M789.1 1022 L793.1 1028.9 L785.1 1028.9 Z" fill="#fff" stroke="#000" stroke-width="1.5"/>
<path d="M795.6 1022 L799.6 1028.9 L791.6 1028.9 Z" fill="#fff" stroke="#000" stroke-width="1.5"/>
<circle cx="834.2" cy="898.4" r="3.3" fill="#fff" stroke="#000" stroke-width="1.6"/>
<circle cx="844.5" cy="902" r="3.3" fill="#fff" stroke="#000" stroke-width="1.6"/>
<circle cx="839" cy="930.5" r="3.3" fill="#fff" stroke="#000" stroke-width="1.6"/>
<circle cx="839" cy="948.6" r="3.3" fill="#fff" stroke="#000" stroke-width="1.6"/>
<circle cx="839" cy="990.1" r="3.3" fill="#fff" stroke="#000" stroke-width="1.6"/>
<rect x="894.4" y="931.9" width="6.4" height="6.4" fill="#fff" stroke="#000" stroke-width="1.5"/>
<rect x="900" y="967.1" width="6.4" height="6.4" fill="#fff" stroke="#000" stroke-width="1.5"/>
<rect x="889.1" y="972.9" width="6.4" height="6.4" fill="#fff" stroke="#000" stroke-width="1.5"/>
<rect x="894.4" y="985.7" width="6.4" height="6.4" fill="#fff" stroke="#000" stroke-width="1.5"/>
<rect x="894.4" y="1021.4" width="6.4" height="6.4" fill="#fff" stroke="#000" stroke-width="1.5"/>
<circle cx="955.5" cy="795.4" r="3.6" fill="#000"/>
<circle cx="950.7" cy="938.7" r="3.6" fill="#000"/>
<circle cx="960.8" cy="936.3" r="3.6" fill="#000"/>
<circle cx="955.5" cy="958" r="3.6" fill="#000"/>
<circle cx="955.5" cy="988.9" r="3.6" fill="#000"/>
<text x="841.1" y="884.3" font-size="19" text-anchor="middle" letter-spacing="2.8">*</text>
<text x="956.9" y="791.4" font-size="19" text-anchor="middle" letter-spacing="2.8">*</text>
<text x="759.6" y="820.7" font-size="35" textLength="57.9" lengthAdjust="spacingAndGlyphs">IL-6</text>
<text transform="translate(692 967.2) rotate(-90)" font-size="19" textLength="137.5" lengthAdjust="spacingAndGlyphs"><tspan font-style="italic">Il6/Tbp</tspan> (2<tspan font-size="12" dy="-7">-&#916;&#916;Ct</tspan><tspan dy="7">)</tspan></text>
<path d="M1045.5 768.3 V1027.5 H1307.7" fill="none" stroke="#000" stroke-width="2.0"/>
<line x1="1040.5" y1="768.3" x2="1045.5" y2="768.3" stroke="#000" stroke-width="2.0"/>
<text x="1037.7" y="775.1" font-size="18.5" text-anchor="end">6000</text>
<line x1="1040.5" y1="854.6" x2="1045.5" y2="854.6" stroke="#000" stroke-width="2.0"/>
<text x="1037.7" y="861.4" font-size="18.5" text-anchor="end">4000</text>
<line x1="1040.5" y1="940.9" x2="1045.5" y2="940.9" stroke="#000" stroke-width="2.0"/>
<text x="1037.7" y="947.7" font-size="18.5" text-anchor="end">2000</text>
<line x1="1040.5" y1="1027.5" x2="1045.5" y2="1027.5" stroke="#000" stroke-width="2.0"/>
<text x="1037.7" y="1034.3" font-size="18.5" text-anchor="end">0</text>
<line x1="1086.3" y1="1027.5" x2="1086.3" y2="1032" stroke="#000" stroke-width="2.0"/>
<line x1="1146.4" y1="1027.5" x2="1146.4" y2="1032" stroke="#000" stroke-width="2.0"/>
<line x1="1206.4" y1="1027.5" x2="1206.4" y2="1032" stroke="#000" stroke-width="2.0"/>
<line x1="1267" y1="1027.5" x2="1267" y2="1032" stroke="#000" stroke-width="2.0"/>
<text x="1071.9" y="1051.2" font-size="16" textLength="26" lengthAdjust="spacingAndGlyphs">PBS</text>
<text x="1130" y="1051.2" font-size="16" textLength="26" lengthAdjust="spacingAndGlyphs">PBS</text>
<text x="1174.3" y="1051.2" font-size="16.5" textLength="54.5" lengthAdjust="spacingAndGlyphs"><tspan font-style="italic">Dab2</tspan><tspan font-size="11" dy="-6.5">WT</tspan></text>
<text x="1249.7" y="1051.2" font-size="16.5" textLength="50.2" lengthAdjust="spacingAndGlyphs"><tspan font-style="italic">Dab2</tspan><tspan font-size="12" dy="-6.5">-/-</tspan></text>
<line x1="1053.1" y1="1060.5" x2="1118.9" y2="1060.5" stroke="#000" stroke-width="2.0"/>
<line x1="1128.9" y1="1060.5" x2="1306.5" y2="1060.5" stroke="#000" stroke-width="2.0"/>
<text x="1087.6" y="1079.2" font-size="18" text-anchor="middle">H<tspan font-size="12.5" dy="4">2</tspan><tspan dy="-4">O</tspan></text>
<text x="1207.7" y="1080.7" font-size="18" text-anchor="middle" textLength="60" lengthAdjust="spacingAndGlyphs">3% DSS</text>
<line x1="1068.8" y1="1027.5" x2="1103.8" y2="1027.5" stroke="#000" stroke-width="2.0"/>
<line x1="1126.4" y1="1008.4" x2="1166.4" y2="1008.4" stroke="#000" stroke-width="2.0"/>
<line x1="1146.4" y1="997.4" x2="1146.4" y2="1019.2" stroke="#000" stroke-width="2.0"/>
<line x1="1136.4" y1="997.4" x2="1156.4" y2="997.4" stroke="#000" stroke-width="2.0"/>
<line x1="1136.4" y1="1019.2" x2="1156.4" y2="1019.2" stroke="#000" stroke-width="2.0"/>
<line x1="1186.4" y1="1007.4" x2="1226.4" y2="1007.4" stroke="#000" stroke-width="2.0"/>
<line x1="1206.4" y1="987.2" x2="1206.4" y2="1027.5" stroke="#000" stroke-width="2.0"/>
<line x1="1196.4" y1="987.2" x2="1216.4" y2="987.2" stroke="#000" stroke-width="2.0"/>
<line x1="1196.4" y1="1027.5" x2="1216.4" y2="1027.5" stroke="#000" stroke-width="2.0"/>
<line x1="1247.2" y1="971.7" x2="1286.5" y2="971.7" stroke="#000" stroke-width="2.0"/>
<line x1="1267" y1="913.4" x2="1267" y2="1027.5" stroke="#000" stroke-width="2.0"/>
<line x1="1257.2" y1="913.4" x2="1277" y2="913.4" stroke="#000" stroke-width="2.0"/>
<line x1="1257.2" y1="1027.5" x2="1277" y2="1027.5" stroke="#000" stroke-width="2.0"/>
<path d="M1073.8 1023.2 L1077.8 1030.1 L1069.8 1030.1 Z" fill="#fff" stroke="#000" stroke-width="1.5"/>
<path d="M1080.1 1023.2 L1084.1 1030.1 L1076.1 1030.1 Z" fill="#fff" stroke="#000" stroke-width="1.5"/>
<path d="M1086.3 1023.2 L1090.3 1030.1 L1082.3 1030.1 Z" fill="#fff" stroke="#000" stroke-width="1.5"/>
<path d="M1092.6 1023.2 L1096.6 1030.1 L1088.6 1030.1 Z" fill="#fff" stroke="#000" stroke-width="1.5"/>
<path d="M1098.8 1023.2 L1102.8 1030.1 L1094.8 1030.1 Z" fill="#fff" stroke="#000" stroke-width="1.5"/>
<circle cx="1151.9" cy="985.9" r="3.3" fill="#fff" stroke="#000" stroke-width="1.6"/>
<circle cx="1141.4" cy="994.2" r="3.3" fill="#fff" stroke="#000" stroke-width="1.6"/>
<circle cx="1131.4" cy="1004.2" r="3.3" fill="#fff" stroke="#000" stroke-width="1.6"/>
<circle cx="1141.4" cy="1008.7" r="3.3" fill="#fff" stroke="#000" stroke-width="1.6"/>
<circle cx="1151.4" cy="1009.7" r="3.3" fill="#fff" stroke="#000" stroke-width="1.6"/>
<circle cx="1161.9" cy="1004.2" r="3.3" fill="#fff" stroke="#000" stroke-width="1.6"/>
<circle cx="1131.4" cy="1013.4" r="3.3" fill="#fff" stroke="#000" stroke-width="1.6"/>
<circle cx="1161.9" cy="1014.2" r="3.3" fill="#fff" stroke="#000" stroke-width="1.6"/>
<circle cx="1141.4" cy="1018.5" r="3.3" fill="#fff" stroke="#000" stroke-width="1.6"/>
<circle cx="1151.9" cy="1019.2" r="3.3" fill="#fff" stroke="#000" stroke-width="1.6"/>
<circle cx="1146.4" cy="1021.7" r="3.3" fill="#fff" stroke="#000" stroke-width="1.6"/>
<rect x="1203.2" y="957.2" width="6.4" height="6.4" fill="#fff" stroke="#000" stroke-width="1.5"/>
<rect x="1203.2" y="981.5" width="6.4" height="6.4" fill="#fff" stroke="#000" stroke-width="1.5"/>
<rect x="1192.7" y="997.7" width="6.4" height="6.4" fill="#fff" stroke="#000" stroke-width="1.5"/>
<rect x="1214" y="997.2" width="6.4" height="6.4" fill="#fff" stroke="#000" stroke-width="1.5"/>
<rect x="1203.2" y="1000.5" width="6.4" height="6.4" fill="#fff" stroke="#000" stroke-width="1.5"/>
<rect x="1192.7" y="1019" width="6.4" height="6.4" fill="#fff" stroke="#000" stroke-width="1.5"/>
<rect x="1198.2" y="1017.8" width="6.4" height="6.4" fill="#fff" stroke="#000" stroke-width="1.5"/>
<rect x="1208.7" y="1016" width="6.4" height="6.4" fill="#fff" stroke="#000" stroke-width="1.5"/>
<rect x="1214" y="1017.8" width="6.4" height="6.4" fill="#fff" stroke="#000" stroke-width="1.5"/>
<rect x="1203.2" y="1021" width="6.4" height="6.4" fill="#fff" stroke="#000" stroke-width="1.5"/>
<circle cx="1267" cy="824.6" r="3.6" fill="#000"/>
<circle cx="1267" cy="929.1" r="3.6" fill="#000"/>
<circle cx="1267" cy="947.9" r="3.6" fill="#000"/>
<circle cx="1267" cy="963.7" r="3.6" fill="#000"/>
<circle cx="1261.5" cy="974.9" r="3.6" fill="#000"/>
<circle cx="1272.2" cy="974.9" r="3.6" fill="#000"/>
<circle cx="1261.5" cy="1002.2" r="3.6" fill="#000"/>
<circle cx="1272.2" cy="1006.2" r="3.6" fill="#000"/>
<circle cx="1256.5" cy="1019.2" r="3.6" fill="#000"/>
<circle cx="1277.7" cy="1020.5" r="3.6" fill="#000"/>
<circle cx="1267" cy="1027.5" r="3.6" fill="#000"/>
<text x="1267.9" y="817.8" font-size="19" text-anchor="middle" letter-spacing="2.8">**</text>
<path d="M65.1 1130 V1383.8 H320.9" fill="none" stroke="#000" stroke-width="2.0"/>
<line x1="60.1" y1="1130" x2="65.1" y2="1130" stroke="#000" stroke-width="2.0"/>
<text x="57.3" y="1136.8" font-size="18.5" text-anchor="end">10</text>
<line x1="60.1" y1="1181.3" x2="65.1" y2="1181.3" stroke="#000" stroke-width="2.0"/>
<text x="57.3" y="1188.1" font-size="18.5" text-anchor="end">8</text>
<line x1="60.1" y1="1232" x2="65.1" y2="1232" stroke="#000" stroke-width="2.0"/>
<text x="57.3" y="1238.8" font-size="18.5" text-anchor="end">6</text>
<line x1="60.1" y1="1282.7" x2="65.1" y2="1282.7" stroke="#000" stroke-width="2.0"/>
<text x="57.3" y="1289.5" font-size="18.5" text-anchor="end">4</text>
<line x1="60.1" y1="1333.3" x2="65.1" y2="1333.3" stroke="#000" stroke-width="2.0"/>
<text x="57.3" y="1340.1" font-size="18.5" text-anchor="end">2</text>
<line x1="60.1" y1="1383.8" x2="65.1" y2="1383.8" stroke="#000" stroke-width="2.0"/>
<text x="57.3" y="1390.6" font-size="18.5" text-anchor="end">0</text>
<line x1="104.4" y1="1383.8" x2="104.4" y2="1388.3" stroke="#000" stroke-width="2.0"/>
<line x1="163.6" y1="1383.8" x2="163.6" y2="1388.3" stroke="#000" stroke-width="2.0"/>
<line x1="221.9" y1="1383.8" x2="221.9" y2="1388.3" stroke="#000" stroke-width="2.0"/>
<line x1="280.6" y1="1383.8" x2="280.6" y2="1388.3" stroke="#000" stroke-width="2.0"/>
<text x="90" y="1406.9" font-size="16" textLength="26" lengthAdjust="spacingAndGlyphs">PBS</text>
<text x="147.2" y="1406.9" font-size="16" textLength="26" lengthAdjust="spacingAndGlyphs">PBS</text>
<text x="189.8" y="1406.9" font-size="16.5" textLength="54.5" lengthAdjust="spacingAndGlyphs"><tspan font-style="italic">Dab2</tspan><tspan font-size="11" dy="-6.5">WT</tspan></text>
<text x="263.3" y="1406.9" font-size="16.5" textLength="50.2" lengthAdjust="spacingAndGlyphs"><tspan font-style="italic">Dab2</tspan><tspan font-size="12" dy="-6.5">-/-</tspan></text>
<line x1="69.2" y1="1415.9" x2="135.8" y2="1415.9" stroke="#000" stroke-width="2.0"/>
<line x1="145.9" y1="1415.9" x2="323.3" y2="1415.9" stroke="#000" stroke-width="2.0"/>
<text x="104.9" y="1435.2" font-size="18" text-anchor="middle">H<tspan font-size="12.5" dy="4">2</tspan><tspan dy="-4">O</tspan></text>
<text x="225.1" y="1436.7" font-size="18" text-anchor="middle" textLength="60" lengthAdjust="spacingAndGlyphs">3% DSS</text>
<line x1="85.1" y1="1351.4" x2="124.2" y2="1351.4" stroke="#000" stroke-width="2.0"/>
<line x1="104.4" y1="1341.1" x2="104.4" y2="1362.1" stroke="#000" stroke-width="2.0"/>
<line x1="95.3" y1="1341.1" x2="114.1" y2="1341.1" stroke="#000" stroke-width="2.0"/>
<line x1="95.3" y1="1362.1" x2="114.1" y2="1362.1" stroke="#000" stroke-width="2.0"/>
<line x1="144" y1="1335" x2="182.6" y2="1335" stroke="#000" stroke-width="2.0"/>
<line x1="163.6" y1="1322.3" x2="163.6" y2="1347.6" stroke="#000" stroke-width="2.0"/>
<line x1="153.7" y1="1322.3" x2="173" y2="1322.3" stroke="#000" stroke-width="2.0"/>
<line x1="153.7" y1="1347.6" x2="173" y2="1347.6" stroke="#000" stroke-width="2.0"/>
<line x1="203.4" y1="1335" x2="241.7" y2="1335" stroke="#000" stroke-width="2.0"/>
<line x1="221.9" y1="1323.7" x2="221.9" y2="1346.6" stroke="#000" stroke-width="2.0"/>
<line x1="213" y1="1323.7" x2="231.6" y2="1323.7" stroke="#000" stroke-width="2.0"/>
<line x1="213" y1="1346.6" x2="231.6" y2="1346.6" stroke="#000" stroke-width="2.0"/>
<line x1="261.3" y1="1268.7" x2="300.4" y2="1268.7" stroke="#000" stroke-width="2.0"/>
<line x1="280.6" y1="1253.7" x2="280.6" y2="1284.4" stroke="#000" stroke-width="2.0"/>
<line x1="271.4" y1="1253.7" x2="290.2" y2="1253.7" stroke="#000" stroke-width="2.0"/>
<line x1="271.4" y1="1284.4" x2="290.2" y2="1284.4" stroke="#000" stroke-width="2.0"/>
<path d="M104.4 1312.6 L108.4 1319.5 L100.4 1319.5 Z" fill="#fff" stroke="#000" stroke-width="1.5"/>
<path d="M100.1 1340.4 L104.1 1347.3 L96.1 1347.3 Z" fill="#fff" stroke="#000" stroke-width="1.5"/>
<path d="M110.5 1348.8 L114.5 1355.7 L106.5 1355.7 Z" fill="#fff" stroke="#000" stroke-width="1.5"/>
<path d="M100.1 1370.5 L104.1 1377.4 L96.1 1377.4 Z" fill="#fff" stroke="#000" stroke-width="1.5"/>
<path d="M110.5 1367.4 L114.5 1374.3 L106.5 1374.3 Z" fill="#fff" stroke="#000" stroke-width="1.5"/>
<circle cx="163.6" cy="1301.3" r="3.3" fill="#fff" stroke="#000" stroke-width="1.6"/>
<circle cx="163.6" cy="1328.5" r="3.3" fill="#fff" stroke="#000" stroke-width="1.6"/>
<circle cx="158" cy="1356.3" r="3.3" fill="#fff" stroke="#000" stroke-width="1.6"/>
<circle cx="168.9" cy="1353.9" r="3.3" fill="#fff" stroke="#000" stroke-width="1.6"/>
<rect x="219.2" y="1293.7" width="6.4" height="6.4" fill="#fff" stroke="#000" stroke-width="1.5"/>
<rect x="224.3" y="1325.1" width="6.4" height="6.4" fill="#fff" stroke="#000" stroke-width="1.5"/>
<rect x="213.9" y="1332.3" width="6.4" height="6.4" fill="#fff" stroke="#000" stroke-width="1.5"/>
<rect x="219.2" y="1345.1" width="6.4" height="6.4" fill="#fff" stroke="#000" stroke-width="1.5"/>
<rect x="219.2" y="1364.4" width="6.4" height="6.4" fill="#fff" stroke="#000" stroke-width="1.5"/>
<circle cx="280.3" cy="1212.7" r="3.6" fill="#000"/>
<circle cx="275.7" cy="1267.5" r="3.6" fill="#000"/>
<circle cx="285.9" cy="1274" r="3.6" fill="#000"/>
<circle cx="275.7" cy="1296" r="3.6" fill="#000"/>
<circle cx="285.9" cy="1294.7" r="3.6" fill="#000"/>
<text x="282.5" y="1209.4" font-size="19" text-anchor="middle" letter-spacing="2.8">**</text>
<path d="M163.6 1280.8 V1147.6 H284.2 V1181.8" fill="none" stroke="#000" stroke-width="2.2"/>
<text x="222.7" y="1138.4" font-size="16" text-anchor="middle">#</text>
<path d="M224.4 1275.2 V1172.2 H283.5 V1181.8" fill="none" stroke="#000" stroke-width="2.2"/>
<text x="254.5" y="1169" font-size="16" text-anchor="middle">##</text>
<text x="82.7" y="1177.7" font-size="35" textLength="57.2" lengthAdjust="spacingAndGlyphs">IL-4</text>
<text transform="translate(28.4 1324.2) rotate(-90)" font-size="19" textLength="138.7" lengthAdjust="spacingAndGlyphs"><tspan font-style="italic">Il4/Tbp</tspan> (2<tspan font-size="12" dy="-7">-&#916;&#916;Ct</tspan><tspan dy="7">)</tspan></text>
<path d="M373.3 1126.5 V1378.7 H627.2" fill="none" stroke="#000" stroke-width="2.0"/>
<line x1="368.3" y1="1126.5" x2="373.3" y2="1126.5" stroke="#000" stroke-width="2.0"/>
<text x="365.5" y="1133.3" font-size="18.5" text-anchor="end">20</text>
<line x1="368.3" y1="1189.8" x2="373.3" y2="1189.8" stroke="#000" stroke-width="2.0"/>
<text x="365.5" y="1196.6" font-size="18.5" text-anchor="end">15</text>
<line x1="368.3" y1="1252.9" x2="373.3" y2="1252.9" stroke="#000" stroke-width="2.0"/>
<text x="365.5" y="1259.7" font-size="18.5" text-anchor="end">10</text>
<line x1="368.3" y1="1315.7" x2="373.3" y2="1315.7" stroke="#000" stroke-width="2.0"/>
<text x="365.5" y="1322.5" font-size="18.5" text-anchor="end">5</text>
<line x1="368.3" y1="1378.7" x2="373.3" y2="1378.7" stroke="#000" stroke-width="2.0"/>
<text x="365.5" y="1385.5" font-size="18.5" text-anchor="end">0</text>
<line x1="412.6" y1="1378.7" x2="412.6" y2="1383.2" stroke="#000" stroke-width="2.0"/>
<line x1="471.4" y1="1378.7" x2="471.4" y2="1383.2" stroke="#000" stroke-width="2.0"/>
<line x1="530.2" y1="1378.7" x2="530.2" y2="1383.2" stroke="#000" stroke-width="2.0"/>
<line x1="588.2" y1="1378.7" x2="588.2" y2="1383.2" stroke="#000" stroke-width="2.0"/>
<text x="398.2" y="1402.5" font-size="16" textLength="26" lengthAdjust="spacingAndGlyphs">PBS</text>
<text x="455" y="1402.5" font-size="16" textLength="26" lengthAdjust="spacingAndGlyphs">PBS</text>
<text x="498.1" y="1402.5" font-size="16.5" textLength="54.5" lengthAdjust="spacingAndGlyphs"><tspan font-style="italic">Dab2</tspan><tspan font-size="11" dy="-6.5">WT</tspan></text>
<text x="570.9" y="1402.5" font-size="16.5" textLength="50.2" lengthAdjust="spacingAndGlyphs"><tspan font-style="italic">Dab2</tspan><tspan font-size="12" dy="-6.5">-/-</tspan></text>
<line x1="380" y1="1412.5" x2="447.1" y2="1412.5" stroke="#000" stroke-width="2.0"/>
<line x1="455.9" y1="1412.5" x2="634" y2="1412.5" stroke="#000" stroke-width="2.0"/>
<text x="415.8" y="1430" font-size="18" text-anchor="middle">H<tspan font-size="12.5" dy="4">2</tspan><tspan dy="-4">O</tspan></text>
<text x="536.4" y="1431.5" font-size="18" text-anchor="middle" textLength="60" lengthAdjust="spacingAndGlyphs">3% DSS</text>
<line x1="393.8" y1="1363.7" x2="431.8" y2="1363.7" stroke="#000" stroke-width="2.0"/>
<line x1="412.6" y1="1359.4" x2="412.6" y2="1368.2" stroke="#000" stroke-width="2.0"/>
<line x1="403.8" y1="1359.4" x2="422.6" y2="1359.4" stroke="#000" stroke-width="2.0"/>
<line x1="403.8" y1="1368.2" x2="422.6" y2="1368.2" stroke="#000" stroke-width="2.0"/>
<line x1="452.1" y1="1282.9" x2="490.6" y2="1282.9" stroke="#000" stroke-width="2.0"/>
<line x1="471.4" y1="1267.4" x2="471.4" y2="1297.9" stroke="#000" stroke-width="2.0"/>
<line x1="461.9" y1="1267.4" x2="481.4" y2="1267.4" stroke="#000" stroke-width="2.0"/>
<line x1="461.9" y1="1297.9" x2="481.4" y2="1297.9" stroke="#000" stroke-width="2.0"/>
<line x1="510.6" y1="1280.6" x2="548.9" y2="1280.6" stroke="#000" stroke-width="2.0"/>
<line x1="530.2" y1="1269.1" x2="530.2" y2="1292.9" stroke="#000" stroke-width="2.0"/>
<line x1="520.1" y1="1269.1" x2="539.4" y2="1269.1" stroke="#000" stroke-width="2.0"/>
<line x1="520.1" y1="1292.9" x2="539.4" y2="1292.9" stroke="#000" stroke-width="2.0"/>
<line x1="568.9" y1="1273.1" x2="607.7" y2="1273.1" stroke="#000" stroke-width="2.0"/>
<line x1="588.2" y1="1257.4" x2="588.2" y2="1288.6" stroke="#000" stroke-width="2.0"/>
<line x1="578.9" y1="1257.4" x2="597.7" y2="1257.4" stroke="#000" stroke-width="2.0"/>
<line x1="578.9" y1="1288.6" x2="597.7" y2="1288.6" stroke="#000" stroke-width="2.0"/>
<path d="M407.6 1343.9 L411.6 1350.8 L403.6 1350.8 Z" fill="#fff" stroke="#000" stroke-width="1.5"/>
<path d="M418.3 1352.4 L422.3 1359.3 L414.3 1359.3 Z" fill="#fff" stroke="#000" stroke-width="1.5"/>
<path d="M398.3 1363.1 L402.3 1370 L394.3 1370 Z" fill="#fff" stroke="#000" stroke-width="1.5"/>
<path d="M428.1 1360.6 L432.1 1367.5 L424.1 1367.5 Z" fill="#fff" stroke="#000" stroke-width="1.5"/>
<path d="M418.3 1367.7 L422.3 1374.6 L414.3 1374.6 Z" fill="#fff" stroke="#000" stroke-width="1.5"/>
<path d="M407.6 1371.4 L411.6 1378.3 L403.6 1378.3 Z" fill="#fff" stroke="#000" stroke-width="1.5"/>
<circle cx="471.4" cy="1183.6" r="3.3" fill="#fff" stroke="#000" stroke-width="1.6"/>
<circle cx="471.4" cy="1238.1" r="3.3" fill="#fff" stroke="#000" stroke-width="1.6"/>
<circle cx="466.4" cy="1256.9" r="3.3" fill="#fff" stroke="#000" stroke-width="1.6"/>
<circle cx="476.9" cy="1265.4" r="3.3" fill="#fff" stroke="#000" stroke-width="1.6"/>
<circle cx="471.4" cy="1288.1" r="3.3" fill="#fff" stroke="#000" stroke-width="1.6"/>
<circle cx="466.4" cy="1299.9" r="3.3" fill="#fff" stroke="#000" stroke-width="1.6"/>
<circle cx="476.9" cy="1304.4" r="3.3" fill="#fff" stroke="#000" stroke-width="1.6"/>
<circle cx="461.4" cy="1330.4" r="3.3" fill="#fff" stroke="#000" stroke-width="1.6"/>
<circle cx="471.4" cy="1331.9" r="3.3" fill="#fff" stroke="#000" stroke-width="1.6"/>
<circle cx="481.9" cy="1330.4" r="3.3" fill="#fff" stroke="#000" stroke-width="1.6"/>
<rect x="527" y="1198.6" width="6.4" height="6.4" fill="#fff" stroke="#000" stroke-width="1.5"/>
<rect x="522" y="1239.7" width="6.4" height="6.4" fill="#fff" stroke="#000" stroke-width="1.5"/>
<rect x="532" y="1249.2" width="6.4" height="6.4" fill="#fff" stroke="#000" stroke-width="1.5"/>
<rect x="527" y="1282.9" width="6.4" height="6.4" fill="#fff" stroke="#000" stroke-width="1.5"/>
<rect x="537" y="1290.9" width="6.4" height="6.4" fill="#fff" stroke="#000" stroke-width="1.5"/>
<rect x="511.4" y="1296.2" width="6.4" height="6.4" fill="#fff" stroke="#000" stroke-width="1.5"/>
<rect x="527" y="1297.2" width="6.4" height="6.4" fill="#fff" stroke="#000" stroke-width="1.5"/>
<rect x="516.4" y="1304.2" width="6.4" height="6.4" fill="#fff" stroke="#000" stroke-width="1.5"/>
<rect x="537" y="1306.2" width="6.4" height="6.4" fill="#fff" stroke="#000" stroke-width="1.5"/>
<rect x="527" y="1313.5" width="6.4" height="6.4" fill="#fff" stroke="#000" stroke-width="1.5"/>
<circle cx="588.2" cy="1174.1" r="3.6" fill="#000"/>
<circle cx="582.7" cy="1221.1" r="3.6" fill="#000"/>
<circle cx="593.5" cy="1223.6" r="3.6" fill="#000"/>
<circle cx="573.4" cy="1267.9" r="3.6" fill="#000"/>
<circle cx="583.4" cy="1272.4" r="3.6" fill="#000"/>
<circle cx="593.5" cy="1269.4" r="3.6" fill="#000"/>
<circle cx="602.7" cy="1266.9" r="3.6" fill="#000"/>
<circle cx="582.7" cy="1314.4" r="3.6" fill="#000"/>
<circle cx="593.5" cy="1320.4" r="3.6" fill="#000"/>
<circle cx="593.5" cy="1331.9" r="3.6" fill="#000"/>
<circle cx="582.7" cy="1341.9" r="3.6" fill="#000"/>
<text x="474.5" y="1177.3" font-size="19" text-anchor="middle" letter-spacing="2.8">**</text>
<text x="532.3" y="1197.3" font-size="19" text-anchor="middle" letter-spacing="2.8">**</text>
<text x="589.6" y="1169" font-size="19" text-anchor="middle" letter-spacing="2.8">**</text>
<path d="M733.6 1119.8 V1381.4 H1002.5" fill="none" stroke="#000" stroke-width="2.0"/>
<line x1="728.6" y1="1119.8" x2="733.6" y2="1119.8" stroke="#000" stroke-width="2.0"/>
<text x="725.8" y="1126.6" font-size="18.5" text-anchor="end">5</text>
<line x1="728.6" y1="1172.2" x2="733.6" y2="1172.2" stroke="#000" stroke-width="2.0"/>
<text x="725.8" y="1179" font-size="18.5" text-anchor="end">4</text>
<line x1="728.6" y1="1224.5" x2="733.6" y2="1224.5" stroke="#000" stroke-width="2.0"/>
<text x="725.8" y="1231.3" font-size="18.5" text-anchor="end">3</text>
<line x1="728.6" y1="1276.6" x2="733.6" y2="1276.6" stroke="#000" stroke-width="2.0"/>
<text x="725.8" y="1283.4" font-size="18.5" text-anchor="end">2</text>
<line x1="728.6" y1="1329" x2="733.6" y2="1329" stroke="#000" stroke-width="2.0"/>
<text x="725.8" y="1335.8" font-size="18.5" text-anchor="end">1</text>
<line x1="728.6" y1="1381.4" x2="733.6" y2="1381.4" stroke="#000" stroke-width="2.0"/>
<text x="725.8" y="1388.2" font-size="18.5" text-anchor="end">0</text>
<line x1="774.6" y1="1381.4" x2="774.6" y2="1385.9" stroke="#000" stroke-width="2.0"/>
<line x1="836.6" y1="1381.4" x2="836.6" y2="1385.9" stroke="#000" stroke-width="2.0"/>
<line x1="898.3" y1="1381.4" x2="898.3" y2="1385.9" stroke="#000" stroke-width="2.0"/>
<line x1="959.9" y1="1381.4" x2="959.9" y2="1385.9" stroke="#000" stroke-width="2.0"/>
<text x="760.2" y="1406.2" font-size="16" textLength="26" lengthAdjust="spacingAndGlyphs">PBS</text>
<text x="820.2" y="1406.2" font-size="16" textLength="26" lengthAdjust="spacingAndGlyphs">PBS</text>
<text x="866.2" y="1406.2" font-size="16.5" textLength="54.5" lengthAdjust="spacingAndGlyphs"><tspan font-style="italic">Dab2</tspan><tspan font-size="11" dy="-6.5">WT</tspan></text>
<text x="942.6" y="1406.2" font-size="16.5" textLength="50.2" lengthAdjust="spacingAndGlyphs"><tspan font-style="italic">Dab2</tspan><tspan font-size="12" dy="-6.5">-/-</tspan></text>
<line x1="743.2" y1="1415.9" x2="810" y2="1415.9" stroke="#000" stroke-width="2.0"/>
<line x1="819.9" y1="1415.9" x2="997.5" y2="1415.9" stroke="#000" stroke-width="2.0"/>
<text x="779.4" y="1434" font-size="18" text-anchor="middle">H<tspan font-size="12.5" dy="4">2</tspan><tspan dy="-4">O</tspan></text>
<text x="898.8" y="1435.5" font-size="18" text-anchor="middle" textLength="60" lengthAdjust="spacingAndGlyphs">3% DSS</text>
<line x1="816.1" y1="1306.3" x2="857.1" y2="1306.3" stroke="#000" stroke-width="2.0"/>
<line x1="836.6" y1="1236.8" x2="836.6" y2="1375.6" stroke="#000" stroke-width="2.0"/>
<line x1="826.9" y1="1236.8" x2="846.2" y2="1236.8" stroke="#000" stroke-width="2.0"/>
<line x1="826.9" y1="1375.6" x2="846.2" y2="1375.6" stroke="#000" stroke-width="2.0"/>
<line x1="877.8" y1="1361.1" x2="918.6" y2="1361.1" stroke="#000" stroke-width="2.0"/>
<line x1="898.3" y1="1345.2" x2="898.3" y2="1377.3" stroke="#000" stroke-width="2.0"/>
<line x1="888" y1="1345.2" x2="908" y2="1345.2" stroke="#000" stroke-width="2.0"/>
<line x1="888" y1="1377.3" x2="908" y2="1377.3" stroke="#000" stroke-width="2.0"/>
<line x1="939.8" y1="1325.4" x2="980.4" y2="1325.4" stroke="#000" stroke-width="2.0"/>
<line x1="959.9" y1="1269.9" x2="959.9" y2="1380.4" stroke="#000" stroke-width="2.0"/>
<line x1="950.2" y1="1269.9" x2="970" y2="1269.9" stroke="#000" stroke-width="2.0"/>
<line x1="950.2" y1="1380.4" x2="970" y2="1380.4" stroke="#000" stroke-width="2.0"/>
<circle cx="836.6" cy="1209.6" r="3.3" fill="#fff" stroke="#000" stroke-width="1.6"/>
<circle cx="836.6" cy="1303.7" r="3.3" fill="#fff" stroke="#000" stroke-width="1.6"/>
<circle cx="836.6" cy="1347.6" r="3.3" fill="#fff" stroke="#000" stroke-width="1.6"/>
<circle cx="836.6" cy="1364.7" r="3.3" fill="#fff" stroke="#000" stroke-width="1.6"/>
<rect x="895.1" y="1331.4" width="6.4" height="6.4" fill="#fff" stroke="#000" stroke-width="1.5"/>
<rect x="889.6" y="1355.5" width="6.4" height="6.4" fill="#fff" stroke="#000" stroke-width="1.5"/>
<rect x="906.5" y="1362.7" width="6.4" height="6.4" fill="#fff" stroke="#000" stroke-width="1.5"/>
<rect x="900.5" y="1366.3" width="6.4" height="6.4" fill="#fff" stroke="#000" stroke-width="1.5"/>
<rect x="889.6" y="1374.1" width="6.4" height="6.4" fill="#fff" stroke="#000" stroke-width="1.5"/>
<circle cx="959.9" cy="1240.9" r="3.6" fill="#000"/>
<circle cx="959.9" cy="1298.8" r="3.6" fill="#000"/>
<circle cx="959.9" cy="1349.5" r="3.6" fill="#000"/>
<circle cx="965.7" cy="1364" r="3.6" fill="#000"/>
<circle cx="954.3" cy="1372.9" r="3.6" fill="#000"/>
<text x="779.4" y="1368.4" font-size="7" text-anchor="middle" fill="#333" letter-spacing="1.5">n.d.</text>
<text x="752.4" y="1171" font-size="35" textLength="99.9" lengthAdjust="spacingAndGlyphs">IL-17a</text>
<text transform="translate(699.2 1326.6) rotate(-90)" font-size="19" textLength="158" lengthAdjust="spacingAndGlyphs"><tspan font-style="italic">Il17a/Tbp</tspan> (2<tspan font-size="12" dy="-7">-&#916;&#916;Ct</tspan><tspan dy="7">)</tspan></text>
<path d="M1041.3 1122.3 V1382 H1303.2" fill="none" stroke="#000" stroke-width="2.0"/>
<line x1="1036.3" y1="1122.3" x2="1041.3" y2="1122.3" stroke="#000" stroke-width="2.0"/>
<text x="1033.5" y="1129.1" font-size="18.5" text-anchor="end">8</text>
<line x1="1036.3" y1="1187.3" x2="1041.3" y2="1187.3" stroke="#000" stroke-width="2.0"/>
<text x="1033.5" y="1194.1" font-size="18.5" text-anchor="end">6</text>
<line x1="1036.3" y1="1252.4" x2="1041.3" y2="1252.4" stroke="#000" stroke-width="2.0"/>
<text x="1033.5" y="1259.2" font-size="18.5" text-anchor="end">4</text>
<line x1="1036.3" y1="1317.4" x2="1041.3" y2="1317.4" stroke="#000" stroke-width="2.0"/>
<text x="1033.5" y="1324.2" font-size="18.5" text-anchor="end">2</text>
<line x1="1036.3" y1="1382" x2="1041.3" y2="1382" stroke="#000" stroke-width="2.0"/>
<text x="1033.5" y="1388.8" font-size="18.5" text-anchor="end">0</text>
<line x1="1081.8" y1="1382" x2="1081.8" y2="1386.5" stroke="#000" stroke-width="2.0"/>
<line x1="1141.9" y1="1382" x2="1141.9" y2="1386.5" stroke="#000" stroke-width="2.0"/>
<line x1="1201.9" y1="1382" x2="1201.9" y2="1386.5" stroke="#000" stroke-width="2.0"/>
<line x1="1262.2" y1="1382" x2="1262.2" y2="1386.5" stroke="#000" stroke-width="2.0"/>
<text x="1067.4" y="1405.5" font-size="16" textLength="26" lengthAdjust="spacingAndGlyphs">PBS</text>
<text x="1125.5" y="1405.5" font-size="16" textLength="26" lengthAdjust="spacingAndGlyphs">PBS</text>
<text x="1169.8" y="1405.5" font-size="16.5" textLength="54.5" lengthAdjust="spacingAndGlyphs"><tspan font-style="italic">Dab2</tspan><tspan font-size="11" dy="-6.5">WT</tspan></text>
<text x="1244.9" y="1405.5" font-size="16.5" textLength="50.2" lengthAdjust="spacingAndGlyphs"><tspan font-style="italic">Dab2</tspan><tspan font-size="12" dy="-6.5">-/-</tspan></text>
<line x1="1048.1" y1="1414.2" x2="1115.1" y2="1414.2" stroke="#000" stroke-width="2.0"/>
<line x1="1123.9" y1="1414.2" x2="1302.2" y2="1414.2" stroke="#000" stroke-width="2.0"/>
<text x="1083.8" y="1432.5" font-size="18" text-anchor="middle">H<tspan font-size="12.5" dy="4">2</tspan><tspan dy="-4">O</tspan></text>
<text x="1204.4" y="1434" font-size="18" text-anchor="middle" textLength="60" lengthAdjust="spacingAndGlyphs">3% DSS</text>
<line x1="1122.1" y1="1334.9" x2="1161.9" y2="1334.9" stroke="#000" stroke-width="2.0"/>
<line x1="1141.9" y1="1321.2" x2="1141.9" y2="1348.7" stroke="#000" stroke-width="2.0"/>
<line x1="1132.1" y1="1321.2" x2="1151.9" y2="1321.2" stroke="#000" stroke-width="2.0"/>
<line x1="1132.1" y1="1348.7" x2="1151.9" y2="1348.7" stroke="#000" stroke-width="2.0"/>
<line x1="1182.1" y1="1361.7" x2="1222.2" y2="1361.7" stroke="#000" stroke-width="2.0"/>
<line x1="1201.9" y1="1357.4" x2="1201.9" y2="1366.7" stroke="#000" stroke-width="2.0"/>
<line x1="1192.2" y1="1357.4" x2="1211.9" y2="1357.4" stroke="#000" stroke-width="2.0"/>
<line x1="1192.2" y1="1366.7" x2="1211.9" y2="1366.7" stroke="#000" stroke-width="2.0"/>
<line x1="1242.7" y1="1312.9" x2="1282" y2="1312.9" stroke="#000" stroke-width="2.0"/>
<line x1="1262.2" y1="1293.6" x2="1262.2" y2="1331.9" stroke="#000" stroke-width="2.0"/>
<line x1="1252.7" y1="1293.6" x2="1272" y2="1293.6" stroke="#000" stroke-width="2.0"/>
<line x1="1252.7" y1="1331.9" x2="1272" y2="1331.9" stroke="#000" stroke-width="2.0"/>
<circle cx="1141.9" cy="1233.1" r="3.3" fill="#fff" stroke="#000" stroke-width="1.6"/>
<circle cx="1141.9" cy="1278.1" r="3.3" fill="#fff" stroke="#000" stroke-width="1.6"/>
<circle cx="1141.9" cy="1308.7" r="3.3" fill="#fff" stroke="#000" stroke-width="1.6"/>
<circle cx="1141.9" cy="1323.2" r="3.3" fill="#fff" stroke="#000" stroke-width="1.6"/>
<circle cx="1141.9" cy="1349.9" r="3.3" fill="#fff" stroke="#000" stroke-width="1.6"/>
<circle cx="1136.9" cy="1361.2" r="3.3" fill="#fff" stroke="#000" stroke-width="1.6"/>
<circle cx="1147.1" cy="1360.4" r="3.3" fill="#fff" stroke="#000" stroke-width="1.6"/>
<circle cx="1152.1" cy="1362.9" r="3.3" fill="#fff" stroke="#000" stroke-width="1.6"/>
<circle cx="1131.4" cy="1367.9" r="3.3" fill="#fff" stroke="#000" stroke-width="1.6"/>
<circle cx="1138.9" cy="1370.7" r="3.3" fill="#fff" stroke="#000" stroke-width="1.6"/>
<circle cx="1145.1" cy="1369.9" r="3.3" fill="#fff" stroke="#000" stroke-width="1.6"/>
<rect x="1198.7" y="1330" width="6.4" height="6.4" fill="#fff" stroke="#000" stroke-width="1.5"/>
<rect x="1204.5" y="1333.5" width="6.4" height="6.4" fill="#fff" stroke="#000" stroke-width="1.5"/>
<rect x="1193.7" y="1340.5" width="6.4" height="6.4" fill="#fff" stroke="#000" stroke-width="1.5"/>
<rect x="1183.7" y="1356" width="6.4" height="6.4" fill="#fff" stroke="#000" stroke-width="1.5"/>
<rect x="1193.7" y="1358" width="6.4" height="6.4" fill="#fff" stroke="#000" stroke-width="1.5"/>
<rect x="1214" y="1359.7" width="6.4" height="6.4" fill="#fff" stroke="#000" stroke-width="1.5"/>
<rect x="1193.7" y="1364.7" width="6.4" height="6.4" fill="#fff" stroke="#000" stroke-width="1.5"/>
<rect x="1203.7" y="1364.7" width="6.4" height="6.4" fill="#fff" stroke="#000" stroke-width="1.5"/>
<rect x="1184" y="1376.3" width="6.4" height="6.4" fill="#fff" stroke="#000" stroke-width="1.5"/>
<rect x="1193.7" y="1376.3" width="6.4" height="6.4" fill="#fff" stroke="#000" stroke-width="1.5"/>
<rect x="1203.7" y="1376.3" width="6.4" height="6.4" fill="#fff" stroke="#000" stroke-width="1.5"/>
<rect x="1214" y="1373.5" width="6.4" height="6.4" fill="#fff" stroke="#000" stroke-width="1.5"/>
<circle cx="1262.2" cy="1192.3" r="3.6" fill="#000"/>
<circle cx="1262.2" cy="1221.1" r="3.6" fill="#000"/>
<circle cx="1262.2" cy="1268.6" r="3.6" fill="#000"/>
<circle cx="1262.2" cy="1298.1" r="3.6" fill="#000"/>
<circle cx="1257" cy="1314.4" r="3.6" fill="#000"/>
<circle cx="1267.7" cy="1315.4" r="3.6" fill="#000"/>
<circle cx="1262.2" cy="1340.4" r="3.6" fill="#000"/>
<circle cx="1262.2" cy="1359.2" r="3.6" fill="#000"/>
<circle cx="1252" cy="1378" r="3.6" fill="#000"/>
<circle cx="1262.2" cy="1378.7" r="3.6" fill="#000"/>
<circle cx="1272" cy="1378" r="3.6" fill="#000"/>
<path d="M1199.7 1310.7 V1161 H1267.2 V1177.3" fill="none" stroke="#000" stroke-width="2.2"/>
<text x="1231.4" y="1148.5" font-size="10" text-anchor="middle">#</text>
<text x="1087.6" y="1371.4" font-size="7" text-anchor="middle" fill="#333" letter-spacing="1.5">n.d.</text>
<path d="M73.6 1489.4 V1737.4 H322.6" fill="none" stroke="#000" stroke-width="2.0"/>
<line x1="68.6" y1="1489.4" x2="73.6" y2="1489.4" stroke="#000" stroke-width="2.0"/>
<text x="65.8" y="1496.2" font-size="18.5" text-anchor="end">250</text>
<line x1="68.6" y1="1539.3" x2="73.6" y2="1539.3" stroke="#000" stroke-width="2.0"/>
<text x="65.8" y="1546.1" font-size="18.5" text-anchor="end">200</text>
<line x1="68.6" y1="1589" x2="73.6" y2="1589" stroke="#000" stroke-width="2.0"/>
<text x="65.8" y="1595.8" font-size="18.5" text-anchor="end">150</text>
<line x1="68.6" y1="1638.5" x2="73.6" y2="1638.5" stroke="#000" stroke-width="2.0"/>
<text x="65.8" y="1645.3" font-size="18.5" text-anchor="end">100</text>
<line x1="68.6" y1="1687.7" x2="73.6" y2="1687.7" stroke="#000" stroke-width="2.0"/>
<text x="65.8" y="1694.5" font-size="18.5" text-anchor="end">50</text>
<line x1="68.6" y1="1737.4" x2="73.6" y2="1737.4" stroke="#000" stroke-width="2.0"/>
<text x="65.8" y="1744.2" font-size="18.5" text-anchor="end">0</text>
<line x1="111.4" y1="1737.4" x2="111.4" y2="1741.9" stroke="#000" stroke-width="2.0"/>
<line x1="169.6" y1="1737.4" x2="169.6" y2="1741.9" stroke="#000" stroke-width="2.0"/>
<line x1="226.3" y1="1737.4" x2="226.3" y2="1741.9" stroke="#000" stroke-width="2.0"/>
<line x1="284" y1="1737.4" x2="284" y2="1741.9" stroke="#000" stroke-width="2.0"/>
<text x="97" y="1762.5" font-size="16" textLength="26" lengthAdjust="spacingAndGlyphs">PBS</text>
<text x="153.2" y="1762.5" font-size="16" textLength="26" lengthAdjust="spacingAndGlyphs">PBS</text>
<text x="194.2" y="1762.5" font-size="16.5" textLength="54.5" lengthAdjust="spacingAndGlyphs"><tspan font-style="italic">Dab2</tspan><tspan font-size="11" dy="-6.5">WT</tspan></text>
<text x="266.7" y="1762.5" font-size="16.5" textLength="50.2" lengthAdjust="spacingAndGlyphs"><tspan font-style="italic">Dab2</tspan><tspan font-size="12" dy="-6.5">-/-</tspan></text>
<line x1="79.1" y1="1772.1" x2="145.9" y2="1772.1" stroke="#000" stroke-width="2.0"/>
<line x1="156.3" y1="1772.1" x2="333.8" y2="1772.1" stroke="#000" stroke-width="2.0"/>
<text x="115.3" y="1790.5" font-size="18" text-anchor="middle">H<tspan font-size="12.5" dy="4">2</tspan><tspan dy="-4">O</tspan></text>
<text x="235.2" y="1792" font-size="18" text-anchor="middle" textLength="60" lengthAdjust="spacingAndGlyphs">3% DSS</text>
<line x1="94.1" y1="1736.7" x2="129.1" y2="1736.7" stroke="#000" stroke-width="2.0"/>
<line x1="150.3" y1="1685.5" x2="188.2" y2="1685.5" stroke="#000" stroke-width="2.0"/>
<line x1="169.6" y1="1655.4" x2="169.6" y2="1715.7" stroke="#000" stroke-width="2.0"/>
<line x1="160.4" y1="1655.4" x2="179" y2="1655.4" stroke="#000" stroke-width="2.0"/>
<line x1="160.4" y1="1715.7" x2="179" y2="1715.7" stroke="#000" stroke-width="2.0"/>
<line x1="207.5" y1="1704.1" x2="245.6" y2="1704.1" stroke="#000" stroke-width="2.0"/>
<line x1="226.3" y1="1683.1" x2="226.3" y2="1725.1" stroke="#000" stroke-width="2.0"/>
<line x1="217.1" y1="1683.1" x2="235.9" y2="1683.1" stroke="#000" stroke-width="2.0"/>
<line x1="217.1" y1="1725.1" x2="235.9" y2="1725.1" stroke="#000" stroke-width="2.0"/>
<line x1="265.4" y1="1644.3" x2="302.8" y2="1644.3" stroke="#000" stroke-width="2.0"/>
<line x1="284" y1="1587.1" x2="284" y2="1701.2" stroke="#000" stroke-width="2.0"/>
<line x1="275" y1="1587.1" x2="293.1" y2="1587.1" stroke="#000" stroke-width="2.0"/>
<line x1="275" y1="1701.2" x2="293.1" y2="1701.2" stroke="#000" stroke-width="2.0"/>
<path d="M97.7 1731.7 L101.7 1738.6 L93.7 1738.6 Z" fill="#fff" stroke="#000" stroke-width="1.5"/>
<path d="M104.9 1732.4 L108.9 1739.3 L100.9 1739.3 Z" fill="#fff" stroke="#000" stroke-width="1.5"/>
<path d="M112.2 1733.1 L116.2 1740 L108.2 1740 Z" fill="#fff" stroke="#000" stroke-width="1.5"/>
<path d="M118.9 1732.4 L122.9 1739.3 L114.9 1739.3 Z" fill="#fff" stroke="#000" stroke-width="1.5"/>
<path d="M125.9 1731.7 L129.9 1738.6 L121.9 1738.6 Z" fill="#fff" stroke="#000" stroke-width="1.5"/>
<circle cx="169.6" cy="1637.3" r="3.3" fill="#fff" stroke="#000" stroke-width="1.6"/>
<circle cx="169.6" cy="1678.8" r="3.3" fill="#fff" stroke="#000" stroke-width="1.6"/>
<circle cx="164" cy="1693.2" r="3.3" fill="#fff" stroke="#000" stroke-width="1.6"/>
<circle cx="174.9" cy="1703.4" r="3.3" fill="#fff" stroke="#000" stroke-width="1.6"/>
<circle cx="169.6" cy="1715.7" r="3.3" fill="#fff" stroke="#000" stroke-width="1.6"/>
<rect x="218.3" y="1677.3" width="6.4" height="6.4" fill="#fff" stroke="#000" stroke-width="1.5"/>
<rect x="228.9" y="1684" width="6.4" height="6.4" fill="#fff" stroke="#000" stroke-width="1.5"/>
<rect x="223.1" y="1700.9" width="6.4" height="6.4" fill="#fff" stroke="#000" stroke-width="1.5"/>
<rect x="223.1" y="1712.5" width="6.4" height="6.4" fill="#fff" stroke="#000" stroke-width="1.5"/>
<rect x="223.1" y="1729.4" width="6.4" height="6.4" fill="#fff" stroke="#000" stroke-width="1.5"/>
<circle cx="284.2" cy="1545.6" r="3.6" fill="#000"/>
<circle cx="284.2" cy="1646.2" r="3.6" fill="#000"/>
<circle cx="284.2" cy="1663.6" r="3.6" fill="#000"/>
<circle cx="279.1" cy="1684.3" r="3.6" fill="#000"/>
<circle cx="289.5" cy="1681.9" r="3.6" fill="#000"/>
<text x="285.6" y="1539.9" font-size="19" text-anchor="middle" letter-spacing="2.8">**</text>
<text x="90.9" y="1543.7" font-size="35" textLength="101.3" lengthAdjust="spacingAndGlyphs">CXCL1</text>
<text transform="translate(27.2 1686) rotate(-90)" font-size="19" textLength="159.2" lengthAdjust="spacingAndGlyphs"><tspan font-style="italic">Cxcl1/Tbp</tspan> (2<tspan font-size="12" dy="-7">-&#916;&#916;Ct</tspan><tspan dy="7">)</tspan></text>
<path d="M375 1490.5 V1733.7 H625.7" fill="none" stroke="#000" stroke-width="2.0"/>
<line x1="370" y1="1490.5" x2="375" y2="1490.5" stroke="#000" stroke-width="2.0"/>
<text x="367.2" y="1497.3" font-size="18.5" text-anchor="end">1500</text>
<line x1="370" y1="1531.8" x2="375" y2="1531.8" stroke="#000" stroke-width="2.0"/>
<text x="367.2" y="1538.6" font-size="18.5" text-anchor="end">1250</text>
<line x1="370" y1="1572.3" x2="375" y2="1572.3" stroke="#000" stroke-width="2.0"/>
<text x="367.2" y="1579.1" font-size="18.5" text-anchor="end">1000</text>
<line x1="370" y1="1612.6" x2="375" y2="1612.6" stroke="#000" stroke-width="2.0"/>
<text x="367.2" y="1619.4" font-size="18.5" text-anchor="end">750</text>
<line x1="370" y1="1653.1" x2="375" y2="1653.1" stroke="#000" stroke-width="2.0"/>
<text x="367.2" y="1659.9" font-size="18.5" text-anchor="end">500</text>
<line x1="370" y1="1693.2" x2="375" y2="1693.2" stroke="#000" stroke-width="2.0"/>
<text x="367.2" y="1700" font-size="18.5" text-anchor="end">250</text>
<line x1="370" y1="1733.7" x2="375" y2="1733.7" stroke="#000" stroke-width="2.0"/>
<text x="367.2" y="1740.5" font-size="18.5" text-anchor="end">0</text>
<line x1="413.8" y1="1733.7" x2="413.8" y2="1738.2" stroke="#000" stroke-width="2.0"/>
<line x1="471.4" y1="1733.7" x2="471.4" y2="1738.2" stroke="#000" stroke-width="2.0"/>
<line x1="529.7" y1="1733.7" x2="529.7" y2="1738.2" stroke="#000" stroke-width="2.0"/>
<line x1="586.4" y1="1733.7" x2="586.4" y2="1738.2" stroke="#000" stroke-width="2.0"/>
<text x="399.4" y="1756.2" font-size="16" textLength="26" lengthAdjust="spacingAndGlyphs">PBS</text>
<text x="455" y="1756.2" font-size="16" textLength="26" lengthAdjust="spacingAndGlyphs">PBS</text>
<text x="497.6" y="1756.2" font-size="16.5" textLength="54.5" lengthAdjust="spacingAndGlyphs"><tspan font-style="italic">Dab2</tspan><tspan font-size="11" dy="-6.5">WT</tspan></text>
<text x="569.1" y="1756.2" font-size="16.5" textLength="50.2" lengthAdjust="spacingAndGlyphs"><tspan font-style="italic">Dab2</tspan><tspan font-size="12" dy="-6.5">-/-</tspan></text>
<line x1="378.8" y1="1770" x2="445.1" y2="1770" stroke="#000" stroke-width="2.0"/>
<line x1="455.6" y1="1770" x2="633.2" y2="1770" stroke="#000" stroke-width="2.0"/>
<text x="414.6" y="1787.7" font-size="18" text-anchor="middle">H<tspan font-size="12.5" dy="4">2</tspan><tspan dy="-4">O</tspan></text>
<text x="535.2" y="1789.2" font-size="18" text-anchor="middle" textLength="60" lengthAdjust="spacingAndGlyphs">3% DSS</text>
<line x1="396.3" y1="1733.7" x2="430.1" y2="1733.7" stroke="#000" stroke-width="2.0"/>
<line x1="452.1" y1="1718.9" x2="490.1" y2="1718.9" stroke="#000" stroke-width="2.0"/>
<line x1="471.4" y1="1707.7" x2="471.4" y2="1730.2" stroke="#000" stroke-width="2.0"/>
<line x1="461.9" y1="1707.7" x2="480.9" y2="1707.7" stroke="#000" stroke-width="2.0"/>
<line x1="461.9" y1="1730.2" x2="480.9" y2="1730.2" stroke="#000" stroke-width="2.0"/>
<line x1="510.1" y1="1714.4" x2="548.2" y2="1714.4" stroke="#000" stroke-width="2.0"/>
<line x1="529.7" y1="1701.9" x2="529.7" y2="1727.4" stroke="#000" stroke-width="2.0"/>
<line x1="520.1" y1="1701.9" x2="538.9" y2="1701.9" stroke="#000" stroke-width="2.0"/>
<line x1="520.1" y1="1727.4" x2="538.9" y2="1727.4" stroke="#000" stroke-width="2.0"/>
<line x1="567.2" y1="1656.4" x2="605.2" y2="1656.4" stroke="#000" stroke-width="2.0"/>
<line x1="586.4" y1="1612.6" x2="586.4" y2="1700.2" stroke="#000" stroke-width="2.0"/>
<line x1="576.4" y1="1612.6" x2="596" y2="1612.6" stroke="#000" stroke-width="2.0"/>
<line x1="576.4" y1="1700.2" x2="596" y2="1700.2" stroke="#000" stroke-width="2.0"/>
<path d="M399.6 1729.4 L403.6 1736.3 L395.6 1736.3 Z" fill="#fff" stroke="#000" stroke-width="1.5"/>
<path d="M406.3 1729.4 L410.3 1736.3 L402.3 1736.3 Z" fill="#fff" stroke="#000" stroke-width="1.5"/>
<path d="M413.1 1729.4 L417.1 1736.3 L409.1 1736.3 Z" fill="#fff" stroke="#000" stroke-width="1.5"/>
<path d="M420.1 1729.4 L424.1 1736.3 L416.1 1736.3 Z" fill="#fff" stroke="#000" stroke-width="1.5"/>
<path d="M427.1 1729.4 L431.1 1736.3 L423.1 1736.3 Z" fill="#fff" stroke="#000" stroke-width="1.5"/>
<circle cx="471.4" cy="1698.9" r="3.3" fill="#fff" stroke="#000" stroke-width="1.6"/>
<circle cx="461.4" cy="1718.2" r="3.3" fill="#fff" stroke="#000" stroke-width="1.6"/>
<circle cx="471.4" cy="1720.7" r="3.3" fill="#fff" stroke="#000" stroke-width="1.6"/>
<circle cx="481.4" cy="1718.2" r="3.3" fill="#fff" stroke="#000" stroke-width="1.6"/>
<circle cx="476.4" cy="1726.9" r="3.3" fill="#fff" stroke="#000" stroke-width="1.6"/>
<circle cx="466.4" cy="1731.5" r="3.3" fill="#fff" stroke="#000" stroke-width="1.6"/>
<rect x="526.5" y="1689.2" width="6.4" height="6.4" fill="#fff" stroke="#000" stroke-width="1.5"/>
<rect x="526.5" y="1703.7" width="6.4" height="6.4" fill="#fff" stroke="#000" stroke-width="1.5"/>
<rect x="515.7" y="1716.2" width="6.4" height="6.4" fill="#fff" stroke="#000" stroke-width="1.5"/>
<rect x="526.5" y="1715" width="6.4" height="6.4" fill="#fff" stroke="#000" stroke-width="1.5"/>
<rect x="535.7" y="1720.5" width="6.4" height="6.4" fill="#fff" stroke="#000" stroke-width="1.5"/>
<rect x="526.5" y="1725" width="6.4" height="6.4" fill="#fff" stroke="#000" stroke-width="1.5"/>
<circle cx="586.4" cy="1573.6" r="3.6" fill="#000"/>
<circle cx="575.7" cy="1658.9" r="3.6" fill="#000"/>
<circle cx="596.5" cy="1659.9" r="3.6" fill="#000"/>
<circle cx="586.4" cy="1663.7" r="3.6" fill="#000"/>
<circle cx="586.4" cy="1683.2" r="3.6" fill="#000"/>
<circle cx="586.4" cy="1700.2" r="3.6" fill="#000"/>
<text x="587.3" y="1571.1" font-size="19" text-anchor="middle" letter-spacing="2.8">***</text>
<path d="M468.4 1676.9 V1515.5 H581.9 V1546.8" fill="none" stroke="#000" stroke-width="2.2"/>
<text x="529.7" y="1506.8" font-size="16" text-anchor="middle">##</text>
<path d="M529.7 1676.2 V1541.3 H581.4 V1546.8" fill="none" stroke="#000" stroke-width="2.2"/>
<text x="556.4" y="1532.6" font-size="16" text-anchor="middle">##</text>
<path d="M745.1 1490.6 V1737.4 H1006" fill="none" stroke="#000" stroke-width="2.0"/>
<line x1="740.1" y1="1490.6" x2="745.1" y2="1490.6" stroke="#000" stroke-width="2.0"/>
<text x="737.3" y="1497.4" font-size="18.5" text-anchor="end">200</text>
<line x1="740.1" y1="1552.6" x2="745.1" y2="1552.6" stroke="#000" stroke-width="2.0"/>
<text x="737.3" y="1559.4" font-size="18.5" text-anchor="end">150</text>
<line x1="740.1" y1="1613.6" x2="745.1" y2="1613.6" stroke="#000" stroke-width="2.0"/>
<text x="737.3" y="1620.4" font-size="18.5" text-anchor="end">100</text>
<line x1="740.1" y1="1675.6" x2="745.1" y2="1675.6" stroke="#000" stroke-width="2.0"/>
<text x="737.3" y="1682.4" font-size="18.5" text-anchor="end">50</text>
<line x1="740.1" y1="1737.4" x2="745.1" y2="1737.4" stroke="#000" stroke-width="2.0"/>
<text x="737.3" y="1744.2" font-size="18.5" text-anchor="end">0</text>
<line x1="786.6" y1="1737.4" x2="786.6" y2="1741.9" stroke="#000" stroke-width="2.0"/>
<line x1="845.3" y1="1737.4" x2="845.3" y2="1741.9" stroke="#000" stroke-width="2.0"/>
<line x1="905.6" y1="1737.4" x2="905.6" y2="1741.9" stroke="#000" stroke-width="2.0"/>
<line x1="965.2" y1="1737.4" x2="965.2" y2="1741.9" stroke="#000" stroke-width="2.0"/>
<text x="772.2" y="1760.8" font-size="16" textLength="26" lengthAdjust="spacingAndGlyphs">PBS</text>
<text x="828.9" y="1760.8" font-size="16" textLength="26" lengthAdjust="spacingAndGlyphs">PBS</text>
<text x="873.5" y="1760.8" font-size="16.5" textLength="54.5" lengthAdjust="spacingAndGlyphs"><tspan font-style="italic">Dab2</tspan><tspan font-size="11" dy="-6.5">WT</tspan></text>
<text x="947.9" y="1760.8" font-size="16.5" textLength="50.2" lengthAdjust="spacingAndGlyphs"><tspan font-style="italic">Dab2</tspan><tspan font-size="12" dy="-6.5">-/-</tspan></text>
<line x1="752.9" y1="1770" x2="819.7" y2="1770" stroke="#000" stroke-width="2.0"/>
<line x1="829.3" y1="1770" x2="1006.8" y2="1770" stroke="#000" stroke-width="2.0"/>
<text x="788.6" y="1788.1" font-size="18" text-anchor="middle">H<tspan font-size="12.5" dy="4">2</tspan><tspan dy="-4">O</tspan></text>
<text x="908.5" y="1789.6" font-size="18" text-anchor="middle" textLength="60" lengthAdjust="spacingAndGlyphs">3% DSS</text>
<line x1="767.3" y1="1736.2" x2="804.7" y2="1736.2" stroke="#000" stroke-width="2.0"/>
<line x1="825.2" y1="1681.2" x2="865.5" y2="1681.2" stroke="#000" stroke-width="2.0"/>
<line x1="845.3" y1="1656.3" x2="845.3" y2="1706" stroke="#000" stroke-width="2.0"/>
<line x1="835.6" y1="1656.3" x2="855.4" y2="1656.3" stroke="#000" stroke-width="2.0"/>
<line x1="835.6" y1="1706" x2="855.4" y2="1706" stroke="#000" stroke-width="2.0"/>
<line x1="886" y1="1706.5" x2="925.4" y2="1706.5" stroke="#000" stroke-width="2.0"/>
<line x1="905.6" y1="1700.5" x2="905.6" y2="1714.2" stroke="#000" stroke-width="2.0"/>
<line x1="895.9" y1="1700.5" x2="915.2" y2="1700.5" stroke="#000" stroke-width="2.0"/>
<line x1="895.9" y1="1714.2" x2="915.2" y2="1714.2" stroke="#000" stroke-width="2.0"/>
<line x1="945.9" y1="1651.7" x2="984.5" y2="1651.7" stroke="#000" stroke-width="2.0"/>
<line x1="965.2" y1="1608.8" x2="965.2" y2="1694.9" stroke="#000" stroke-width="2.0"/>
<line x1="955.5" y1="1608.8" x2="975.3" y2="1608.8" stroke="#000" stroke-width="2.0"/>
<line x1="955.5" y1="1694.9" x2="975.3" y2="1694.9" stroke="#000" stroke-width="2.0"/>
<path d="M771 1730.7 L775 1737.6 L767 1737.6 Z" fill="#fff" stroke="#000" stroke-width="1.5"/>
<path d="M778.2 1731.9 L782.2 1738.8 L774.2 1738.8 Z" fill="#fff" stroke="#000" stroke-width="1.5"/>
<path d="M785.9 1733.1 L789.9 1740 L781.9 1740 Z" fill="#fff" stroke="#000" stroke-width="1.5"/>
<path d="M793.2 1731.9 L797.2 1738.8 L789.2 1738.8 Z" fill="#fff" stroke="#000" stroke-width="1.5"/>
<path d="M800.4 1731.9 L804.4 1738.8 L796.4 1738.8 Z" fill="#fff" stroke="#000" stroke-width="1.5"/>
<circle cx="845.3" cy="1654.6" r="3.3" fill="#fff" stroke="#000" stroke-width="1.6"/>
<circle cx="845.3" cy="1669.6" r="3.3" fill="#fff" stroke="#000" stroke-width="1.6"/>
<circle cx="845.3" cy="1688.4" r="3.3" fill="#fff" stroke="#000" stroke-width="1.6"/>
<circle cx="845.3" cy="1712.5" r="3.3" fill="#fff" stroke="#000" stroke-width="1.6"/>
<rect x="887.7" y="1696.6" width="6.4" height="6.4" fill="#fff" stroke="#000" stroke-width="1.5"/>
<rect x="907.2" y="1702.1" width="6.4" height="6.4" fill="#fff" stroke="#000" stroke-width="1.5"/>
<rect x="896.4" y="1701.4" width="6.4" height="6.4" fill="#fff" stroke="#000" stroke-width="1.5"/>
<rect x="917.3" y="1699.7" width="6.4" height="6.4" fill="#fff" stroke="#000" stroke-width="1.5"/>
<rect x="902.4" y="1717.3" width="6.4" height="6.4" fill="#fff" stroke="#000" stroke-width="1.5"/>
<circle cx="970.7" cy="1602.8" r="3.6" fill="#000"/>
<circle cx="959.9" cy="1610.5" r="3.6" fill="#000"/>
<circle cx="959.9" cy="1670.8" r="3.6" fill="#000"/>
<circle cx="970.7" cy="1676.4" r="3.6" fill="#000"/>
<circle cx="965.2" cy="1699.3" r="3.6" fill="#000"/>
<text x="844.7" y="1642.9" font-size="19" text-anchor="middle" letter-spacing="2.8">*</text>
<text x="966.6" y="1597.1" font-size="19" text-anchor="middle" letter-spacing="2.8">***</text>
<path d="M908 1674.7 V1554 H965.2 V1569" fill="none" stroke="#000" stroke-width="2.2"/>
<text x="935.7" y="1546.1" font-size="16" text-anchor="middle">#</text>
<text x="762.5" y="1545.3" font-size="35" textLength="111" lengthAdjust="spacingAndGlyphs">MMP8</text>
<text transform="translate(696.8 1694.5) rotate(-90)" font-size="19" textLength="173.7" lengthAdjust="spacingAndGlyphs"><tspan font-style="italic">Mmp8/Tbp</tspan> (2<tspan font-size="12" dy="-7">-&#916;&#916;Ct</tspan><tspan dy="7">)</tspan></text>
<path d="M1053.1 1488 V1735.7 H1304.5" fill="none" stroke="#000" stroke-width="2.0"/>
<line x1="1048.1" y1="1488" x2="1053.1" y2="1488" stroke="#000" stroke-width="2.0"/>
<text x="1045.3" y="1494.8" font-size="18.5" text-anchor="end">30000</text>
<line x1="1048.1" y1="1529.8" x2="1053.1" y2="1529.8" stroke="#000" stroke-width="2.0"/>
<text x="1045.3" y="1536.6" font-size="18.5" text-anchor="end">25000</text>
<line x1="1048.1" y1="1570.6" x2="1053.1" y2="1570.6" stroke="#000" stroke-width="2.0"/>
<text x="1045.3" y="1577.4" font-size="18.5" text-anchor="end">20000</text>
<line x1="1048.1" y1="1611.9" x2="1053.1" y2="1611.9" stroke="#000" stroke-width="2.0"/>
<text x="1045.3" y="1618.7" font-size="18.5" text-anchor="end">15000</text>
<line x1="1048.1" y1="1653.1" x2="1053.1" y2="1653.1" stroke="#000" stroke-width="2.0"/>
<text x="1045.3" y="1659.9" font-size="18.5" text-anchor="end">10000</text>
<line x1="1048.1" y1="1694.4" x2="1053.1" y2="1694.4" stroke="#000" stroke-width="2.0"/>
<text x="1045.3" y="1701.2" font-size="18.5" text-anchor="end">5000</text>
<line x1="1048.1" y1="1735.7" x2="1053.1" y2="1735.7" stroke="#000" stroke-width="2.0"/>
<text x="1045.3" y="1742.5" font-size="18.5" text-anchor="end">0</text>
<line x1="1091.8" y1="1735.7" x2="1091.8" y2="1740.2" stroke="#000" stroke-width="2.0"/>
<line x1="1149.4" y1="1735.7" x2="1149.4" y2="1740.2" stroke="#000" stroke-width="2.0"/>
<line x1="1206.9" y1="1735.7" x2="1206.9" y2="1740.2" stroke="#000" stroke-width="2.0"/>
<line x1="1264.7" y1="1735.7" x2="1264.7" y2="1740.2" stroke="#000" stroke-width="2.0"/>
<text x="1077.4" y="1757" font-size="16" textLength="26" lengthAdjust="spacingAndGlyphs">PBS</text>
<text x="1133" y="1757" font-size="16" textLength="26" lengthAdjust="spacingAndGlyphs">PBS</text>
<text x="1174.8" y="1757" font-size="16.5" textLength="54.5" lengthAdjust="spacingAndGlyphs"><tspan font-style="italic">Dab2</tspan><tspan font-size="11" dy="-6.5">WT</tspan></text>
<text x="1247.4" y="1757" font-size="16.5" textLength="50.2" lengthAdjust="spacingAndGlyphs"><tspan font-style="italic">Dab2</tspan><tspan font-size="12" dy="-6.5">-/-</tspan></text>
<line x1="1056.8" y1="1767.5" x2="1123.1" y2="1767.5" stroke="#000" stroke-width="2.0"/>
<line x1="1133.1" y1="1767.5" x2="1306.5" y2="1767.5" stroke="#000" stroke-width="2.0"/>
<text x="1092.6" y="1784.5" font-size="18" text-anchor="middle">H<tspan font-size="12.5" dy="4">2</tspan><tspan dy="-4">O</tspan></text>
<text x="1212.7" y="1786" font-size="18" text-anchor="middle" textLength="60" lengthAdjust="spacingAndGlyphs">3% DSS</text>
<line x1="1073.8" y1="1735.7" x2="1110.1" y2="1735.7" stroke="#000" stroke-width="2.0"/>
<line x1="1130.9" y1="1703.7" x2="1168.4" y2="1703.7" stroke="#000" stroke-width="2.0"/>
<line x1="1149.4" y1="1674.4" x2="1149.4" y2="1732.5" stroke="#000" stroke-width="2.0"/>
<line x1="1140.1" y1="1674.4" x2="1158.9" y2="1674.4" stroke="#000" stroke-width="2.0"/>
<line x1="1140.1" y1="1732.5" x2="1158.9" y2="1732.5" stroke="#000" stroke-width="2.0"/>
<line x1="1188.4" y1="1713.2" x2="1225.9" y2="1713.2" stroke="#000" stroke-width="2.0"/>
<line x1="1206.9" y1="1711.2" x2="1206.9" y2="1723.2" stroke="#000" stroke-width="2.0"/>
<line x1="1197.7" y1="1711.2" x2="1216.4" y2="1711.2" stroke="#000" stroke-width="2.0"/>
<line x1="1197.7" y1="1723.2" x2="1216.4" y2="1723.2" stroke="#000" stroke-width="2.0"/>
<line x1="1245.9" y1="1652.6" x2="1283.5" y2="1652.6" stroke="#000" stroke-width="2.0"/>
<line x1="1264.7" y1="1591.8" x2="1264.7" y2="1714.4" stroke="#000" stroke-width="2.0"/>
<line x1="1255.2" y1="1591.8" x2="1274" y2="1591.8" stroke="#000" stroke-width="2.0"/>
<line x1="1255.2" y1="1714.4" x2="1274" y2="1714.4" stroke="#000" stroke-width="2.0"/>
<path d="M1077.6 1731.4 L1081.6 1738.3 L1073.6 1738.3 Z" fill="#fff" stroke="#000" stroke-width="1.5"/>
<path d="M1084.6 1731.4 L1088.6 1738.3 L1080.6 1738.3 Z" fill="#fff" stroke="#000" stroke-width="1.5"/>
<path d="M1091.8 1731.4 L1095.8 1738.3 L1087.8 1738.3 Z" fill="#fff" stroke="#000" stroke-width="1.5"/>
<path d="M1098.8 1731.4 L1102.8 1738.3 L1094.8 1738.3 Z" fill="#fff" stroke="#000" stroke-width="1.5"/>
<path d="M1105.8 1731.4 L1109.8 1738.3 L1101.8 1738.3 Z" fill="#fff" stroke="#000" stroke-width="1.5"/>
<circle cx="1149.6" cy="1649.9" r="3.3" fill="#fff" stroke="#000" stroke-width="1.6"/>
<circle cx="1159.6" cy="1700.2" r="3.3" fill="#fff" stroke="#000" stroke-width="1.6"/>
<circle cx="1139.4" cy="1704.4" r="3.3" fill="#fff" stroke="#000" stroke-width="1.6"/>
<circle cx="1149.6" cy="1710.2" r="3.3" fill="#fff" stroke="#000" stroke-width="1.6"/>
<circle cx="1154.6" cy="1724.4" r="3.3" fill="#fff" stroke="#000" stroke-width="1.6"/>
<circle cx="1144.4" cy="1732.7" r="3.3" fill="#fff" stroke="#000" stroke-width="1.6"/>
<rect x="1198.7" y="1701.7" width="6.4" height="6.4" fill="#fff" stroke="#000" stroke-width="1.5"/>
<rect x="1208.7" y="1700" width="6.4" height="6.4" fill="#fff" stroke="#000" stroke-width="1.5"/>
<rect x="1193.7" y="1708" width="6.4" height="6.4" fill="#fff" stroke="#000" stroke-width="1.5"/>
<rect x="1214" y="1707" width="6.4" height="6.4" fill="#fff" stroke="#000" stroke-width="1.5"/>
<rect x="1203.7" y="1716.2" width="6.4" height="6.4" fill="#fff" stroke="#000" stroke-width="1.5"/>
<rect x="1203.7" y="1726.3" width="6.4" height="6.4" fill="#fff" stroke="#000" stroke-width="1.5"/>
<circle cx="1264.7" cy="1568.8" r="3.6" fill="#000"/>
<circle cx="1264.7" cy="1583.6" r="3.6" fill="#000"/>
<circle cx="1264.7" cy="1666.9" r="3.6" fill="#000"/>
<circle cx="1264.7" cy="1684.4" r="3.6" fill="#000"/>
<circle cx="1259.7" cy="1707.7" r="3.6" fill="#000"/>
<circle cx="1269.7" cy="1706.4" r="3.6" fill="#000"/>
<text x="1264.9" y="1551.8" font-size="19" text-anchor="middle" letter-spacing="2.8">**</text>
<path d="M1208.9 1685.7 V1513 H1265.2 V1520.5" fill="none" stroke="#000" stroke-width="2.2"/>
<text x="1236.4" y="1509.3" font-size="16" text-anchor="middle">#</text>
</svg>
</body></html>
